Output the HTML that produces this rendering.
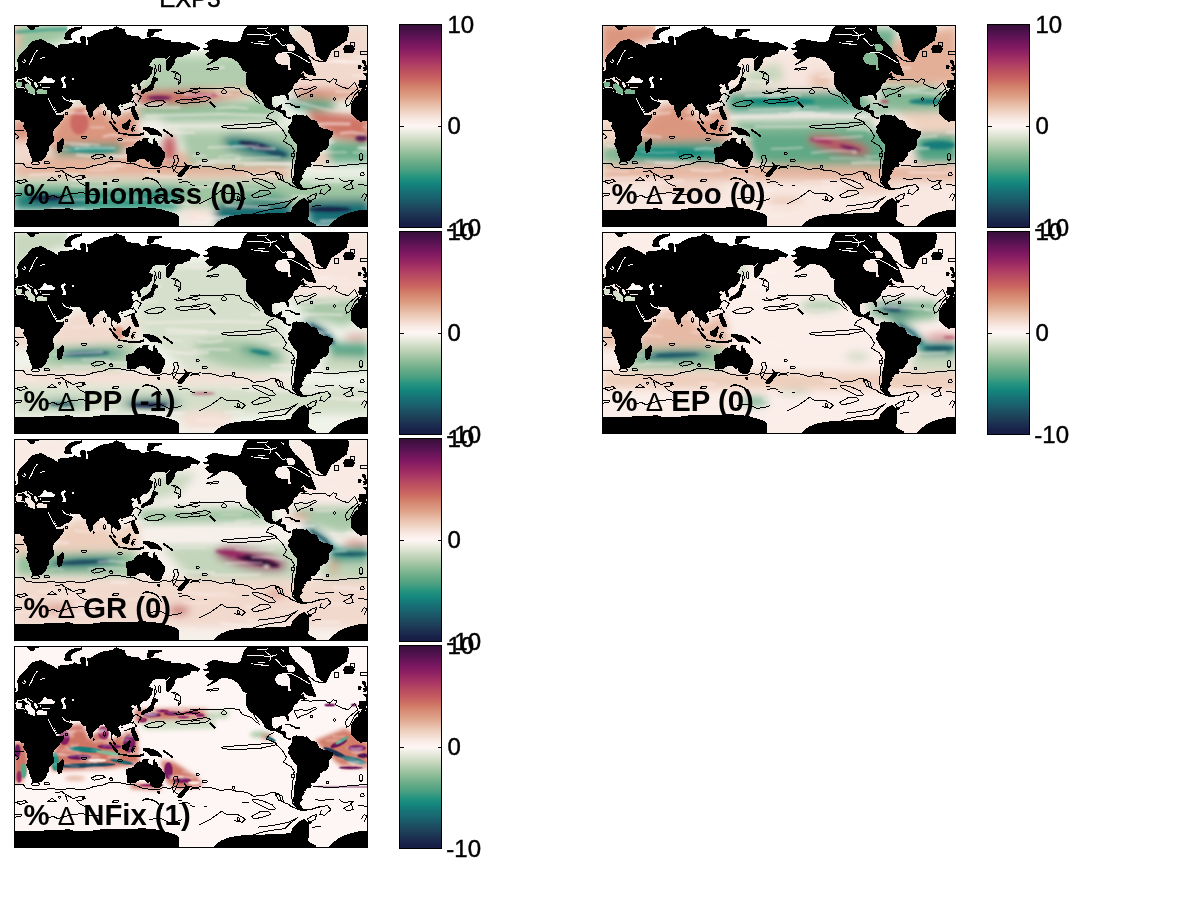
<!DOCTYPE html>
<html lang="en"><head><meta charset="utf-8"><title>EXP3</title>
<style>html,body{margin:0;padding:0;background:#fff}body{width:1200px;height:900px;overflow:hidden;font-family:"Liberation Sans",sans-serif}svg{display:block}text{font-family:"Liberation Sans",sans-serif;fill:#000}</style></head><body>
<svg width="1200" height="900" viewBox="0 0 1200 900">
<defs>
<clipPath id="pc"><rect x="0" y="0" width="353" height="201"/></clipPath>
<linearGradient id="curl" x1="0" y1="1" x2="0" y2="0"><stop offset="0.0" stop-color="#151d44"/><stop offset="0.02" stop-color="#182048"/><stop offset="0.053" stop-color="#1c3050"/><stop offset="0.086" stop-color="#1e415a"/><stop offset="0.119" stop-color="#1c5264"/><stop offset="0.152" stop-color="#19646e"/><stop offset="0.185" stop-color="#167376"/><stop offset="0.218" stop-color="#14877d"/><stop offset="0.25" stop-color="#269480"/><stop offset="0.283" stop-color="#4ba082"/><stop offset="0.315" stop-color="#64aa87"/><stop offset="0.37" stop-color="#96c09b"/><stop offset="0.425" stop-color="#c8d7be"/><stop offset="0.468" stop-color="#e8ebde"/><stop offset="0.5" stop-color="#fef6f4"/><stop offset="0.535" stop-color="#f8e8e1"/><stop offset="0.59" stop-color="#ebc8b4"/><stop offset="0.645" stop-color="#dea087"/><stop offset="0.7" stop-color="#d27d69"/><stop offset="0.727" stop-color="#cb6762"/><stop offset="0.76" stop-color="#c0555f"/><stop offset="0.793" stop-color="#b44462"/><stop offset="0.826" stop-color="#a53264"/><stop offset="0.86" stop-color="#912362"/><stop offset="0.89" stop-color="#801962"/><stop offset="0.924" stop-color="#69145a"/><stop offset="0.957" stop-color="#50124e"/><stop offset="0.99" stop-color="#3c103e"/><stop offset="1.0" stop-color="#350e36"/></linearGradient>
<filter id="b1" x="-20%" y="-20%" width="140%" height="140%"><feGaussianBlur stdDeviation="1"/></filter>
<filter id="b1_5" x="-20%" y="-20%" width="140%" height="140%"><feGaussianBlur stdDeviation="1.5"/></filter>
<filter id="b2" x="-20%" y="-20%" width="140%" height="140%"><feGaussianBlur stdDeviation="2"/></filter>
<filter id="b3" x="-20%" y="-20%" width="140%" height="140%"><feGaussianBlur stdDeviation="3"/></filter>
<filter id="b4" x="-20%" y="-20%" width="140%" height="140%"><feGaussianBlur stdDeviation="4"/></filter>
<filter id="b6" x="-20%" y="-20%" width="140%" height="140%"><feGaussianBlur stdDeviation="6"/></filter>
<filter id="b8" x="-20%" y="-20%" width="140%" height="140%"><feGaussianBlur stdDeviation="8"/></filter>
<path id="land" shape-rendering="crispEdges" d="M-5.9 63.2L-2 64.1L2.9 62L9.8 61.6L10.8 65.8L14.7 67.1L19.6 66.6L19.6 69.1L24.5 67.7L29.4 68.2L31.9 68.6L33.3 71.8L34.8 76.1L36.3 79.3L37.8 82.4L39.2 85.5L42.2 88.1L42.7 89.3L46.1 89.4L50 88.8L49.5 91.6L47.1 95.6L45.1 98.1L41.2 102.2L39.2 104.7L38.2 107.7L39.2 111.2L39.7 115.8L36.3 118.9L34.3 121L34.8 125.2L32.4 127.3L31.9 130.6L29.4 133.3L26.5 135.9L22.6 136.1L19.6 137L17.9 136.1L17.7 133.9L15.7 130L14.2 124.1L11.8 118.9L13.2 112.7L12.3 106.7L8.8 101.7L9.3 97.1L6.9 96.3L4.4 94.3L1 94.6L-2.9 95.6L-7.4 96.2L-10.8 93.6L-13.2 91.1L-16.2 88.1L-17 85.8L-16 81.4L-16.7 79.3L-14.7 75.1L-12.7 72.1L-9.8 70.2L-9.5 67.4L-6.9 65.2ZM347.1 63.2L351 64.1L355.9 62L362.8 61.6L363.8 65.8L367.7 67.1L372.6 66.6L372.6 69.1L377.5 67.7L382.4 68.2L384.9 68.6L386.3 71.8L387.8 76.1L389.3 79.3L390.8 82.4L392.2 85.5L395.2 88.1L395.7 89.3L399.1 89.4L403 88.8L402.5 91.6L400.1 95.6L398.1 98.1L394.2 102.2L392.2 104.7L391.2 107.7L392.2 111.2L392.7 115.8L389.3 118.9L387.3 121L387.8 125.2L385.4 127.3L384.9 130.6L382.4 133.3L379.5 135.9L375.6 136.1L372.6 137L370.9 136.1L370.7 133.9L368.7 130L367.2 124.1L364.8 118.9L366.2 112.7L365.3 106.7L361.8 101.7L362.3 97.1L359.9 96.3L357.4 94.3L354 94.6L350.1 95.6L345.6 96.2L342.2 93.6L339.8 91.1L336.8 88.1L336 85.8L337 81.4L336.3 79.3L338.3 75.1L340.3 72.1L343.2 70.2L343.5 67.4L346.1 65.2ZM48.5 112.5L50 116.3L48.8 119.9L47.1 126.8L43.6 127.3L42.2 123.1L42.5 119.9L42.5 117.1L45.6 115.3ZM-5.4 62.9L-8.8 61.8L-9.1 59.5L-8.6 54.4L-2 54.1L-1.2 51L-4.4 47.9L-1.5 47.6L1.5 45.6L3.9 43.2L6.9 41.1L8.3 40.5L8 36.3L10.3 35.6L9.8 39.1L11.8 40.2L13.7 40.5L18.1 39.5L20.6 38.4L21.1 35.6L23.5 35.1L23 32.9L27.5 32.4L29.4 31.9L25.5 31.5L22.1 31.9L20.9 30.4L21.1 27.3L24.5 24.1L23.5 22.8L21.6 23.3L20.6 25.7L17.2 28.9L16.7 30.8L18.4 32.2L16.2 35.6L15.7 37.4L14 38.4L12.6 38.4L11.3 34.9L10.3 32.9L7.8 34.9L5.4 33.7L4.9 29.6L7.8 26.5L11.8 23.3L14.2 19.1L17.7 16.1L22.6 14.1L27.5 13.8L30.4 15.6L32.4 16.8L39.2 19.9L40.2 21.6L34.3 21.6L32.4 21.3L34.3 25.2L36.8 25.7L39.2 24.1L43.1 22.1L43.1 19.1L45.1 19.1L52 18.2L57.9 17.7L59.8 15.9L63.7 17.3L66.7 18.2L65.7 13.8L66.2 10L69.6 10L71.6 12.8L71.6 18.2L72.6 20.8L73.5 17.3L72.6 11.9L76.5 11.3L79.4 8.9L85.3 6.1L90.2 4.5L97.1 3.7L102 0.5L104.9 2L110.8 4.1L111.3 8.7L116.7 10L124.5 11L127 13.8L131.4 12.8L137.3 11L143.2 11.3L148.1 13.8L155.9 14.7L156.9 16.1L164.7 16.1L167.7 17.3L174.5 16.8L176.5 17.3L181.4 19.9L186.3 22.5L183.4 25.2L176.5 24.1L175.5 28.4L170.6 29.3L166.7 31.9L162.8 31.9L159.8 34.9L158.8 39.1L156.9 41.9L153.8 44.6L152.5 37.7L155.9 33.4L159.8 29.3L156.9 29.6L152 33.1L147.1 32.7L140.2 32.9L137.3 35.6L134.3 40.2L138.3 41.5L137.8 47.2L135.3 51L132.4 54.1L129.4 54.4L127.3 56.1L125 58.9L126.8 61.8L126.5 63.8L124 64.9L123.8 61.8L122.4 60.6L122.6 58.6L119.1 59.5L119.6 57.7L116.7 59.5L115.7 60.6L118.2 61.2L120.1 61.8L118.6 62.9L117 64.1L118.6 67.4L119.6 69.4L118.6 71.8L116.7 75.1L113.7 77.4L110.8 78.2L108.4 79L107.7 80L105.9 78.8L103.9 80.9L104.9 83.4L106.9 87L106.9 89.1L104.4 90.6L102.8 91.9L103 90.3L101 89.3L98.8 87.1L98.1 88.6L97.3 90.6L98.5 93.6L101 96.6L102 99.2L101.5 99.3L99 97.6L98.3 94.6L96.4 92.6L96.6 89.6L95.8 84.5L94.1 84L92.5 84.5L92.5 81.9L90.2 79L88.7 77.7L87.3 78.4L85.3 79.3L84.8 80.3L80.9 84L78.6 85.5L78.4 90.1L76.7 92.3L76 92.5L74.5 90.6L73.3 87.5L71.6 83.4L71.4 79.8L70.6 79.3L69.1 79.5L67.7 77.9L66.2 76.1L65.2 74.7L60.6 74.8L56.4 74.5L55.4 72.9L51.5 72.4L49.2 69.7L47.6 69.7L47.1 70.7L49.2 73.5L50.5 75.1L50.5 76.1L52.9 75.9L55.1 74L55.6 75.8L57.6 76.7L58.6 77.8L56.7 81.4L54.2 83.1L51 84.3L47.6 86.5L44.1 87.7L42.7 87.9L42 85.5L39.7 81.4L38.2 78.8L36.5 75.1L34.3 71.8L33.8 70.2L32.8 71.8L31.9 69.7L31.7 68.3L33.6 68.2L34.3 66.3L35.3 63.5L35.3 62L32.4 62.7L29.9 62.4L27.5 62.1L26 60L25.8 58.3L28.4 57.1L30.9 56.9L34.3 55.9L37.3 57.1L40.7 56.5L40.7 55.3L38.7 53.8L36.8 52.6L37.8 51L36.8 49.7L34.3 51L35.6 51.9L32.8 52.9L32.1 51.4L30.1 50.4L28.9 51.9L27.9 54.1L27.5 55.9L28.2 56.9L25.8 57.3L23.5 57.3L22.4 57.9L23.5 60.4L22.6 62.4L21.1 61.8L19.1 57.9L19.1 55.9L15.7 54.1L13.5 51.5L12.1 52L12.3 53.5L15.5 55.9L18.1 58L16.7 57.7L16.2 58.9L16.7 59.5L15.7 60.6L15.4 58.3L12.3 56.5L10.1 54.7L8.6 53L6.4 54.4L3.1 54.4L3.1 56.1L0.5 57.7L-0.3 59.5L-0.5 60.6L-2 62ZM347.6 62.9L344.2 61.8L343.9 59.5L344.4 54.4L351 54.1L351.8 51L348.6 47.9L351.5 47.6L354.5 45.6L356.9 43.2L359.9 41.1L361.3 40.5L361 36.3L363.3 35.6L362.8 39.1L364.8 40.2L366.7 40.5L371.1 39.5L373.6 38.4L374.1 35.6L376.5 35.1L376 32.9L380.5 32.4L382.4 31.9L378.5 31.5L375.1 31.9L373.9 30.4L374.1 27.3L377.5 24.1L376.5 22.8L374.6 23.3L373.6 25.7L370.2 28.9L369.7 30.8L371.4 32.2L369.2 35.6L368.7 37.4L367 38.4L365.6 38.4L364.3 34.9L363.3 32.9L360.8 34.9L358.4 33.7L357.9 29.6L360.8 26.5L364.8 23.3L367.2 19.1L370.7 16.1L375.6 14.1L380.5 13.8L383.4 15.6L385.4 16.8L392.2 19.9L393.2 21.6L387.3 21.6L385.4 21.3L387.3 25.2L389.8 25.7L392.2 24.1L396.1 22.1L396.1 19.1L398.1 19.1L405 18.2L410.9 17.7L412.8 15.9L416.7 17.3L419.7 18.2L418.7 13.8L419.2 10L422.6 10L424.6 12.8L424.6 18.2L425.6 20.8L426.5 17.3L425.6 11.9L429.5 11.3L432.4 8.9L438.3 6.1L443.2 4.5L450.1 3.7L455 0.5L457.9 2L463.8 4.1L464.3 8.7L469.7 10L477.5 11L480 13.8L484.4 12.8L490.3 11L496.2 11.3L501.1 13.8L508.9 14.7L509.9 16.1L517.7 16.1L520.7 17.3L527.5 16.8L529.5 17.3L534.4 19.9L539.3 22.5L536.4 25.2L529.5 24.1L528.5 28.4L523.6 29.3L519.7 31.9L515.8 31.9L512.8 34.9L511.8 39.1L509.9 41.9L506.8 44.6L505.5 37.7L508.9 33.4L512.8 29.3L509.9 29.6L505 33.1L500.1 32.7L493.2 32.9L490.3 35.6L487.3 40.2L491.3 41.5L490.8 47.2L488.3 51L485.4 54.1L482.4 54.4L480.3 56.1L478 58.9L479.8 61.8L479.5 63.8L477 64.9L476.8 61.8L475.4 60.6L475.6 58.6L472.1 59.5L472.6 57.7L469.7 59.5L468.7 60.6L471.2 61.2L473.1 61.8L471.6 62.9L470 64.1L471.6 67.4L472.6 69.4L471.6 71.8L469.7 75.1L466.7 77.4L463.8 78.2L461.4 79L460.7 80L458.9 78.8L456.9 80.9L457.9 83.4L459.9 87L459.9 89.1L457.4 90.6L455.8 91.9L456 90.3L454 89.3L451.8 87.1L451.1 88.6L450.3 90.6L451.5 93.6L454 96.6L455 99.2L454.5 99.3L452 97.6L451.3 94.6L449.4 92.6L449.6 89.6L448.8 84.5L447.1 84L445.5 84.5L445.5 81.9L443.2 79L441.7 77.7L440.3 78.4L438.3 79.3L437.8 80.3L433.9 84L431.6 85.5L431.4 90.1L429.7 92.3L429 92.5L427.5 90.6L426.3 87.5L424.6 83.4L424.4 79.8L423.6 79.3L422.1 79.5L420.7 77.9L419.2 76.1L418.2 74.7L413.6 74.8L409.4 74.5L408.4 72.9L404.5 72.4L402.2 69.7L400.6 69.7L400.1 70.7L402.2 73.5L403.5 75.1L403.5 76.1L405.9 75.9L408.1 74L408.6 75.8L410.6 76.7L411.6 77.8L409.7 81.4L407.2 83.1L404 84.3L400.6 86.5L397.1 87.7L395.7 87.9L395 85.5L392.7 81.4L391.2 78.8L389.5 75.1L387.3 71.8L386.8 70.2L385.8 71.8L384.9 69.7L384.7 68.3L386.6 68.2L387.3 66.3L388.3 63.5L388.3 62L385.4 62.7L382.9 62.4L380.5 62.1L379 60L378.8 58.3L381.4 57.1L383.9 56.9L387.3 55.9L390.3 57.1L393.7 56.5L393.7 55.3L391.7 53.8L389.8 52.6L390.8 51L389.8 49.7L387.3 51L388.6 51.9L385.8 52.9L385.1 51.4L383.1 50.4L381.9 51.9L380.9 54.1L380.5 55.9L381.2 56.9L378.8 57.3L376.5 57.3L375.4 57.9L376.5 60.4L375.6 62.4L374.1 61.8L372.1 57.9L372.1 55.9L368.7 54.1L366.5 51.5L365.1 52L365.3 53.5L368.5 55.9L371.1 58L369.7 57.7L369.2 58.9L369.7 59.5L368.7 60.6L368.4 58.3L365.3 56.5L363.1 54.7L361.6 53L359.4 54.4L356.1 54.4L356.1 56.1L353.5 57.7L352.7 59.5L352.5 60.6L351 62ZM188.3 23L194.2 21.5L192.2 18.2L189.7 18.2L199.1 13.4L204 14.1L214.7 16.1L220.6 16.8L227.5 15L233.4 15.9L240.2 18.2L247.1 19.1L253 19.1L258.9 18.6L260.8 12.8L263.8 16.5L268.7 19.1L272.6 16.5L273.1 20.8L268.7 22.1L267.2 24.9L262.8 27.3L260.3 31.9L261.8 34.1L264.8 36.3L269.7 38.7L272.3 39.1L272.6 42.1L274.1 44.2L275.5 43.9L275.5 39.8L277.5 37L276.5 33.7L277 31.2L276.5 28.4L280.4 28.4L284.4 30.4L284.9 33.7L288.3 34.1L289.6 31.5L292.2 35.6L294.2 38.4L297.1 40.9L298.4 43.2L295.6 44.2L294.2 45.6L289.3 45.6L287.3 46.8L284.4 49.7L288.3 47.2L289.8 47.4L289.3 49.1L290.2 51L293.2 51.4L291.2 52.6L288.3 54.1L288.3 52.2L287.3 52.2L284.4 53.8L283.7 55.9L284.4 56.5L280.4 57.6L279 60.6L278.5 63.5L276.5 65.2L273.6 68L274.6 72.9L274.3 74.7L273.1 74.5L271.8 71.8L270.6 69.7L268.7 69.3L265.7 69.4L264.8 70.5L261.3 70L257.9 71.8L257.4 75.1L257.1 78.2L258.9 81.4L260.3 82.1L263.3 81.9L264.3 79.3L267.7 78.8L267.2 81.9L266.2 84.5L268.7 84.7L271.1 85.2L271.1 89.6L272.6 91.6L275 91.1L277 92.1L276 93.1L274.6 93.3L273.1 92.8L271.6 92.3L269 90.6L267.2 87.5L263.8 86.5L260.8 84.5L257.9 84.7L253.5 83.1L249.6 80.3L249.6 78.2L247.1 75.1L245.1 72.4L242.7 69.7L240.5 68L240.7 69.7L243.2 73.5L245.1 76.9L243.2 75.1L241.2 72.4L239.7 69.7L238.3 66.9L234.8 64.6L233.4 61.8L231.4 57.9L231.4 54.7L231.4 50.7L230.9 48.1L232.4 47.2L228 44.6L225.5 39.8L222.6 36.3L219.2 34.1L215.7 32.2L211.8 31.9L207.9 31.5L204 33.4L202 35.6L198.1 37L194.2 39.1L191.7 39.8L196.1 36.3L198.6 33.8L194.2 33.4L193.7 31.5L190.7 29.6L191.7 27.3L195.1 26.5L194.6 24.9L190.2 24.9ZM281.9 -2.3L286.3 0.9L296.1 7.7L299.1 17.3L301.8 30.4L307.7 34.6L311.8 35.9L317 25.6L324 20.8L332.2 15L334.6 5.7L333.4 -2.3L333.4 -17L282.4 -17ZM328.5 23.3L330.4 19.4L337.3 19.1L340.7 23.3L338.3 27.3L330 27.3ZM-5.4 45.9L1 44.6L1.7 42.3L0 41.2L-1.5 39.1L-2 35.4L-3.9 34L-5.9 34.9L-5.4 37.7L-3.1 39.1L-2.9 41.5L-4.6 41.9L-4.9 43.6L-2.9 44.2ZM347.6 45.9L354 44.6L354.7 42.3L353 41.2L351.5 39.1L351 35.4L349.1 34L347.1 34.9L347.6 37.7L349.9 39.1L350.1 41.5L348.4 41.9L348.1 43.6L350.1 44.2ZM343.2 43.6L346.8 43L347.1 40.1L345.6 38.7L343.2 40.5ZM277 92.1L279 89.9L282.4 88.6L282.9 89.8L286.3 89.1L290.2 90.1L292.7 89.9L294.2 92.1L297.1 94.6L300.1 94.8L302.5 96.3L304 99.6L304 101.2L305.9 101.7L309.4 103.2L312.8 103.5L316.2 105.3L318.5 106.2L318.9 108.7L316.7 111.7L314.8 113.8L314.8 118.4L313.3 121.5L311.8 124.1L308.9 125L305.4 127.3L305.1 130L302 134.4L300.1 136.7L297.1 136.9L295.8 136.1L297.1 138.9L296.1 141.3L292.2 141.8L291.7 144.2L289.3 144.2L290.2 146.4L288.8 149.1L286.8 150.3L288.3 152.8L285.3 156.1L285.8 158.7L288.8 161.9L285.3 162.6L282.4 160.8L280.4 158.1L278.5 154.1L279 150.3L279.5 145.4L279.5 141.8L279.7 139.5L280.9 135L281.4 130.6L282.1 126.2L282.6 119.9L281.4 117.9L278.5 114.8L277.3 112.7L275.5 109.2L273.3 106.7L273.3 105L274.6 103.7L273.6 101.7L274.6 99.8L275.7 99.1L277.2 96.6L277 93.8ZM111.3 123.1L111.8 127.3L112.8 132.7L112.8 136.4L115.7 137.2L121.1 136.1L123.5 134.2L128.5 133.3L131.4 134.6L133.4 137.2L135 135L135.5 137.8L137.3 140.4L140.7 141.6L143.7 141.8L147.1 139.9L148.1 136.1L150 132.7L150.5 129.5L150 126.2L147.9 124.1L146.1 121.3L143.5 119.9L142.7 115.8L140.7 115.1L139.7 111.5L138.8 113.8L138.3 118.2L136.8 118.4L133.4 116.3L134.1 113L129.9 112.2L127.5 113.8L127 115.8L124.5 114.8L122.6 116.3L119.9 118.2L119.1 120.4L114.7 121.7ZM141.9 144L145.4 144.1L145.1 147L143.2 147.3ZM128.5 101.5L131.4 101.5L132.4 104L135.3 102.4L138.3 103.3L142.2 105L144.6 106.7L144.1 107.7L147.6 111.2L145.1 110.7L143.2 108.7L140.7 109L139.7 109.9L136.3 108.7L135.3 106.7L132.9 105.1L130.4 104.7L129.4 103.5ZM106.9 99.1L108.8 98.9L110.8 97.3L113.3 95.6L114.7 93.6L116.7 95.4L115.5 97.1L115.7 99.6L114.2 102.2L113.7 104.7L111.8 104.2L109.3 103.9L107.9 102.2ZM93.4 95L95.6 95.4L98.5 98.6L101.5 101.7L103.9 103.9L103.7 106.5L102.5 106.5L100 104.7L98.3 102.2L96.6 99.1ZM103.3 107.5L106.4 107.4L108.8 107.4L112.3 108.4L115.7 109L120.6 109L122.6 109.7L121.6 110.9L116.7 110.2L112.3 109.4L107.9 108.9L104.4 108.1ZM117.2 106.2L116.7 103.7L117.7 100.1L120.6 99.6L122.6 99.1L121.6 100.3L118.6 100.3L119.1 101.7L120.9 101.7L119.4 102.7L120.1 105.2L118.2 103.7L118.2 106.2ZM118.2 81.9L119.8 82L119.6 84.5L121.6 87.5L120.1 87L118.4 86L117.7 84.5ZM119.6 93.6L121.6 92.1L123.1 90.9L124 93.1L123.3 94.6L121.6 94.1ZM119.6 88.8L122.6 88.1L122.9 90.3L120.6 91.1ZM139.2 40.1L140.2 43.2L140.7 47.2L139.7 51L139.2 47.2L139 43.2ZM118.6 74.8L119.6 75.1L118.6 78.2L117.9 77.2ZM106.6 81.1L108.4 80.3L108.8 80.9L107.4 82.2ZM78.4 90.8L80.2 93.1L79.4 94.6L78.4 94.6L78.2 92.6ZM49.5 13.8L53.9 15L57.4 14.1L56.4 9.4L59.8 6.1L67.7 3L67.7 0.9L56.9 2.4L51 7.1ZM11.8 -4.6L12.3 1.3L15.7 4.1L19.6 4.5L20.6 2L24.5 1.3L25.5 -4.6ZM269.7 78.2L272.6 77L276.5 77.7L280.2 80.1L277 80.4L276.5 79.3L272.6 78.2ZM279.9 80.5L284.4 80.4L285.9 81.9L283.4 82.7L280.1 82.1ZM294.9 48.8L298.1 43.9L301 47.8L301 50.1L298.1 50ZM225.5 15.6L229.5 4.1L235.3 -1.9L235.3 -17L274.6 -17L274.6 -1.9L275 6.7L280.8 15L287.8 20.8L292.5 29L290.2 34.9L284.4 34.9L276.5 39.1L274.6 44.6L269.7 39.1L259.8 34.9L258.9 19.1ZM31.4 68.2L34.3 71.3L42.7 88L41.2 89.1L32.4 72.9ZM46.6 69.1L49.5 69.3L51.5 72.1L55.4 72.7L55.3 74L52.9 76.3L50.3 76.3L49 73.5L46.9 70.7ZM-5.9 62.7L-5.4 63.7L2.9 62.9L9.8 62.4L10.8 66.3L14.7 67.4L19.6 69.3L24.5 68.2L31.4 68.8L34.3 67.4L35.8 62L29.4 61.8L26.5 61.8L26 58.3L28.4 56.7L27.5 54.7L23.5 56.9L22.1 57.7L19.1 55.7L13.7 51.2L11.8 51.5L8.6 52.7L2.9 54L0 57.9L-2 61.8ZM347.1 62.7L347.6 63.7L355.9 62.9L362.8 62.4L363.8 66.3L367.7 67.4L372.6 69.3L377.5 68.2L384.4 68.8L387.3 67.4L388.8 62L382.4 61.8L379.5 61.8L379 58.3L381.4 56.7L380.5 54.7L376.5 56.9L375.1 57.7L372.1 55.7L366.7 51.2L364.8 51.5L361.6 52.7L355.9 54L353 57.9L351 61.8ZM3.4 44.6L2.9 34.1L4.9 28.9L8.8 33.4L11.8 37.7L9.8 40.5L7.8 41.9ZM9.8 40.5L11.8 37L10.8 33.4L16.7 31.2L17.2 28.1L21.6 22.6L25 23.3L21.1 30.4L22.6 31.9L29.4 31.5L27.5 32.9L23 33.4L24 35.6L21.1 35.9L20.6 39.1L13.7 40.8ZM33.8 50.4L38.2 49.1L38.2 52.2L34.3 52.2ZM31.4 20.8L40.2 20.8L43.1 22.5L37.3 26.5L33.3 25.7ZM132.4 11.9L133.4 3.4L147.1 3.4L148.1 5.5L140.2 6.7L138.3 10.6ZM168.7 135.9L172.6 138.9L175.5 139.9L174.5 143L172.1 145.4L169.1 149.7L165.7 151.9L162.6 150.7L164.7 147.2L167.7 144.2L170.1 141.8L170.1 138.9ZM152 44.6L151.5 35.6L154.9 31.2L159.8 28.1L162.8 30.4L160.8 34.1L159.8 38.4L156.9 42.6L153.9 45.5ZM128 101L132.4 101.2L138.3 102.7L143.2 104.7L145.6 106.7L148.1 110.7L147.6 111.7L143.2 109.7L140.2 110L135.8 109.2L132.4 105.7L128.9 104.2ZM148.6 103L150 103.5L159.3 110.5L157.9 111.7L148.1 104.7ZM103 106.7L112.8 108L124.5 108.2L129.4 106.7L129.4 109.2L123.5 111L112.8 109.9L103.4 108ZM292.5 29L296.6 35.9L298.6 41.9L301 47.8L301 50.1L298.1 50L294.2 49.7L290.2 47.2L288.3 39.1ZM116.2 81.9L120.1 81.7L122.1 87L124.2 91.6L124 94.8L120.6 94.6L118.6 90.6L117 86.5ZM126.5 66L129.4 63.4L133.4 61.6L136.3 58.6L137.3 54.7L138.7 51.2L142.7 52.2L143.7 54.7L140.7 56.7L139.7 60L138.3 64.1L134.3 65.7L130.4 66.9L128.5 68.9L127 68.3ZM0 184.5L9.8 184L19.6 184L29.4 184L39.2 183.6L49 183.1L53.9 182.7L58.8 184L68.6 184.3L73.5 184.8L78.4 184L88.2 182.7L98.1 182.2L107.9 182.2L117.7 182.2L127.5 181.9L137.3 182.2L147.1 184L156.9 186.6L161.8 188.5L164.7 191.3L164.7 232.6L198.1 232.6L199.1 200.4L205.9 194.2L215.7 190.5L227.5 188.8L240.2 188.3L254.9 187.9L269.7 187.2L277.5 186.3L282.4 184.8L284.4 184L287.3 180.5L290.2 177.2L294.2 174.8L297.1 174.3L297.1 176.4L293.2 178.8L291.2 184L292.2 189.4L294.2 195.2L292.2 199.3L304 200.4L313.8 200.4L318.7 196.2L323.6 191.7L333.4 187.5L343.2 185L353 184.5L353 232.6L0 232.6ZM270.5 188.5L276.5 186.6L277.6 182.2L280.8 178.7L284.7 175L289.5 172.3L293.9 175.8L294.9 188.5L293.3 194.8L302.2 199.3L300.6 204.3L270.5 204.3ZM194.2 77.1L196.1 75.8L201.5 80.6L199.9 82.2Z"/>
<path id="sea_inl" shape-rendering="crispEdges" d="M27.5 57L29 53.5L30.7 51.8L33.5 53.5L37.5 54.5L39.7 56.7L37.5 57.7L31.5 57.5ZM46.7 52.5L50 50.5L51.5 52L49.5 54.5L50.3 57.5L51.5 60L51 62.7L48 62L48.3 58.5L47 55.5ZM57.3 52.5L59.5 52.3L59.5 54.5L57.5 54.5Z"/>
<path id="sea_hud" shape-rendering="crispEdges" d="M261 31.3L263.3 28.1L268 26.9L273.3 28.1L275.6 32.5L275.6 37.8L276.2 44.2L273.8 44.2L273.3 39.5L268 39.7L263.3 37.8L260.8 34.6ZM271.5 19.1L278.5 18.3L281.1 22.6L278.5 26.1L273.3 24.9Z"/>
<path id="sea_med" shape-rendering="crispEdges" d="M1 57.5L3 56L7.3 56.5L7.7 59.5L5.5 61.7L1.7 61.5ZM10 59.5L13 57.5L17 60.3L20.5 63.5L20 68.5L15.5 68.7L13 65L10.5 62.5ZM21.7 65.7L24.5 63.5L28.5 64L32.7 64.7L32.7 68.7L22.5 68.7Z"/>
<path id="chan" shape-rendering="crispEdges" fill="none" stroke-width="1" d="M33.7 73L36 77.5L38 81.5L40 84.7L42.5 89M47.5 70.3L50 73.5L52.7 75.3L60.5 76.1M22.7 24.7L20 28.5L18 33L16 37L14 40M25.5 33.2L30 31.8M7.5 36L10.5 37.5M266.8 27.6L276.2 26.7L285.5 31.6L296 37.8M233 9.4L244.7 8.6L254.6 10.6L262.2 8.2M250.5 4.7L256.3 9.4L255.2 15M261.2 12.7L268 19.9L271.5 19.4M242.3 3.3L254 2.4M243.5 15.6L250.5 16.2M266.8 2.8L269.8 5.1"/>
<path id="ct" d="M160.2 66.6L163.3 68.2L169.7 67.1L177.6 64.7L185.5 63.2M175.5 63.2L185.0 62.5L196.1 63.2L207.2 63.2L212.2 61.9L215.1 61.6L224.6 63.2L227.7 67.9L237.2 71.1L242.0 75.8L245.2 77.7M207.3 66.3a2.2 2.2 0 1 0 4.4 0a2.2 2.2 0 1 0 -4.4 0ZM130.1 79.0L138.0 75.8L147.5 74.6L151.0 76.6L145.9 80.3L134.8 81.5ZM160.2 75.8L168.1 73.9L177.6 74.6L185.5 73.9M160.2 75.8L166.5 77.7L177.6 77.4L185.5 77.4M175.5 73.9L185.0 72.0L191.3 71.1L196.1 72.7L191.3 75.8L181.8 76.8L175.5 77.4M163.3 65.1L168.1 67.9L174.4 65.5L180.7 67.6L185.5 65.5M143.79999999999998 42.6a1.3 3.5 0 1 0 2.6 0a1.3 3.5 0 1 0 -2.6 0ZM157.0 45.7L161.7 48.1L160.2 52.9L164.9 54.5L163.3 60.0L165.7 56.8L166.5 50.5L161.7 46.5ZM140.4 38.6L142.0 45.7L138.8 52.1M106.3 79.8L112.7 76.6L119.0 75.8L122.2 79.8L115.8 82.2L109.5 84.5M117.4 69.5L122.2 67.9L126.9 71.1L123.7 75.8M89.10000000000001 87.2a1.1 1.9 0 1 0 2.2 0a1.1 1.9 0 1 0 -2.2 0ZM191.3 43.8L196.1 42.6L204.0 42.3L203.2 43.8L196.1 44.6ZM207.2 100.6L223.0 99.2L242.0 97.9L261.0 96.3L262.3 98.2L251.5 100.6L243.6 102.2L215.1 103.0L207.2 101.4ZM259.4 86.1L254.7 88.5L251.5 92.5L257.8 94.8L261.8 97.2M261.8 98.2L267.3 103.0L272.1 110.9L268.9 115.7L276.8 120.4L280.0 125.2L278.7 127.5M276.79999999999995 129.6a1.6 1.9 0 1 0 3.2 0a1.6 1.9 0 1 0 -3.2 0ZM278.7 131.5L278.1 139.4L276.8 148.9L278.4 156.8L284.7 163.2L295.8 163.2L305.3 160.0M286.3 53.7L295.8 54.6L310.1 53.7L314.8 56.8L318.8 53.3L322.0 54.5L321.2 58.4L327.5 61.6L333.8 63.2L340.2 56.8L343.3 63.2L333.8 71.1L330.7 75.8L332.2 80.6L335.4 79.0L340.2 69.5L344.9 64.7M279.2 63.2L281.3 67.9L283.2 71.9L286.3 69.5L291.9 67.9L297.4 64.7L302.2 61.9L300.6 60.8L292.7 64.0L286.3 63.2L280.8 64.0M296.0 69.8a1.1 1.1 0 1 0 2.2 0a1.1 1.1 0 1 0 -2.2 0ZM318.79999999999995 73.5a1.1 1.1 0 1 0 2.2 0a1.1 1.1 0 1 0 -2.2 0ZM320.4 26.0L323.5 26.0L323.5 30.7L320.4 30.7ZM345.7 26.0L352.8 26.0L352.8 29.1L345.7 29.1ZM336.2 17.2L339.4 16.5L340.2 20.4L337.0 22.8ZM291.1 27.5L295.8 30.7L300.6 34.7L306.9 36.2L311.7 35.9M299.0 139.7L318.0 141.3L333.8 139.4L352.8 137.8M344.9 131.2a1.6 3.5 0 1 0 3.2 0a1.6 3.5 0 1 0 -3.2 0ZM311.59999999999997 135.9a1.3 1.3 0 1 0 2.6 0a1.3 1.3 0 1 0 -2.6 0ZM345.90000000000003 148.6a1.9 1.6 0 1 0 3.8 0a1.9 1.6 0 1 0 -3.8 0ZM175.5 142.9L185.0 140.4L196.1 141.0L207.2 144.2L213.5 142.6L223.0 145.0L232.5 145.7L238.8 149.7L249.9 148.9L257.8 145.7L264.2 147.3L267.3 155.2L273.7 157.6L276.8 160.0M185.0 178.2L196.1 172.7L207.2 164.7L211.9 167.9L223.0 167.9L230.9 172.7L227.7 175.8L219.8 174.2M238.0 152.9L246.7 153.7L257.8 158.4L261.0 162.4L254.7 163.2L245.2 158.4L238.8 155.2ZM237.2 169.5L246.7 164.7L254.7 165.5L256.2 167.9L246.7 171.1L238.8 172.3ZM243.6 180.6L257.8 179.0L273.7 175.8L283.2 171.1L276.8 175.8L270.5 182.2L257.8 183.7L245.2 186.1L238.8 188.5M261.0 148.1L264.2 153.7L268.9 155.2L267.3 148.9ZM217.9 141.3a1.1 1.4 0 1 0 2.2 0a1.1 1.4 0 1 0 -2.2 0ZM188.0 135.0a2.5 1.3 0 1 0 5.0 0a2.5 1.3 0 1 0 -5.0 0ZM182.0 128.0a1.4 1.1 0 1 0 2.8 0a1.4 1.1 0 1 0 -2.8 0ZM222.70000000000002 172.7a1.1 1.6 0 1 0 2.2 0a1.1 1.6 0 1 0 -2.2 0ZM276.8 160.0L286.3 164.0L295.8 163.2L306.9 160.0L313.2 159.2L316.4 163.2L310.1 168.7L305.3 167.9L306.9 163.2M300.6 152.4L306.9 154.5L313.2 152.9L319.6 153.3M324.3 152.9L329.1 156.0L338.6 154.9L335.4 158.4L329.1 161.6L332.2 164.0L338.6 163.2L337.0 157.6M292.7 172.7L297.4 169.5L302.2 167.9L300.6 172.7L295.8 175.8ZM297.4 180.6L306.9 180.3M343.3 158.4L352.8 160.0M346.5 172.7L349.7 167.9L352.8 169.5L349.7 175.0M227.7 155.6L234.1 155.6M189.7 160.0L192.9 160.0M175.5 159.2L180.2 160.0M-0.0 137.7L9.0 138.5L12.0 142.2L25.5 143.0L37.5 142.2L45.0 143.0L55.5 142.2L67.5 143.0L73.5 142.2L79.5 140.0L88.5 138.5L94.5 136.2L100.5 135.5L105.0 136.2L112.5 137.7L120.0 138.5L127.5 141.5L136.5 143.0L144.0 143.0L150.0 140.7L154.5 142.2L160.5 140.0L166.5 141.5L175.5 140.0M174.4 139.4L179.2 141.0L185.5 142.9M16.5 137.7a4.5 1.5 0 1 0 9.0 0a4.5 1.5 0 1 0 -9.0 0ZM29.500000000000004 137.3a2.7 1.2 0 1 0 5.4 0a2.7 1.2 0 1 0 -5.4 0ZM76.5 131.7L81.0 129.5L88.5 129.2L90.7 130.7L85.5 132.5L79.5 133.7ZM95.4 132.8a1.3 1.3 0 1 0 2.6 0a1.3 1.3 0 1 0 -2.6 0ZM40.5 146.0L48.0 145.2L51.0 148.2L53.2 155.7M48.0 146.0L58.5 152.0L66.0 149.7L70.5 152.0L67.5 153.5L61.5 153.5L66.0 158.0L73.5 161.0M43.8 150.8a1.2 1.0 0 1 0 2.4 0a1.2 1.0 0 1 0 -2.4 0ZM67.8 151.2a1.2 1.0 0 1 0 2.4 0a1.2 1.0 0 1 0 -2.4 0ZM33.0 155.3L37.5 152.0L42.0 155.3ZM1.5 155.7L10.5 154.2L12.7 155.7L6.0 158.0ZM-0.0 168.5L7.5 167.7L6.0 170.0L-0.0 170.7M31.5 171.5L39.0 170.0L43.5 172.2L55.5 168.5L67.5 167.0L73.5 168.5L85.5 169.2M97.5 155.7L100.5 153.5L104.2 153.5L103.5 155.7L99.0 156.5ZM127.5 154.2L130.5 152.7L138.0 153.5L142.5 155.7L145.5 159.5L147.0 162.8M135.0 173.0L145.5 171.5L154.5 176.0L163.5 174.5L168.0 173.0M160.5 146.0L165.0 148.2L169.5 146.0M165.0 157.2L171.0 155.7L175.5 157.2M158.6 130.7L162.5 129.9L164.1 134.7L161.7 141.0L159.4 145.7L157.8 141.0L160.2 135.5ZM130.1 152.1L138.0 152.9L136.4 154.5M163.3 154.5L167.3 153.7M66.7 111.7a2.8 1.0 0 1 0 5.6 0a2.8 1.0 0 1 0 -5.6 0ZM103.0 114.0a2.5 1.0 0 1 0 5.0 0a2.5 1.0 0 1 0 -5.0 0ZM95.1 132.5a1.4 1.6 0 1 0 2.8 0a1.4 1.6 0 1 0 -2.8 0ZM88.8 87.5a1.2 2.2 0 1 0 2.4 0a1.2 2.2 0 1 0 -2.4 0ZM51.0 88.0a1.0 1.0 0 1 0 2.0 0a1.0 1.0 0 1 0 -2.0 0ZM0.5 105.0L5.5 105.5L9.5 105.3M0.5 108.0L4.5 111.5L1.5 113.5" fill="none" stroke="#000" stroke-width="1" shape-rendering="crispEdges"/>
</defs>
<text x="190" y="6.8" font-size="24" text-anchor="middle" stroke="#000" stroke-width="0.5">EXP3</text>
<g transform="translate(14.5 25.5)">
<g clip-path="url(#pc)">
<rect x="0" y="0" width="353" height="201" fill="#e9efe3"/>
<g filter="url(#b4)"><path d="M31.7 115.2L43.8 94L58.9 80.5L86 77.5L95 94L122.2 82L128.2 121.2L86 128.7L40.8 128.7Z" fill="#db967f"/><path d="M46.8 119.1L107.1 118.2L107.7 129.6L40.8 130.2Z" fill="#319881"/><path d="M25.7 130.2L122.2 129L176.5 127.2L206.7 128.7L267 136.3L276.1 145.3L276.1 152L0 151.4L0 139.3Z" fill="#e4b29b"/><ellipse cx="182.5" cy="131.8" rx="9.1" ry="4.5" fill="#d27d69"/><path d="M0 155.9L354.5 155.9L354.5 181.5L0 181.5Z" fill="#9fc4a1"/><path d="M0 164L164.4 164L164.4 184.6L0 184.6Z" fill="#319881"/><ellipse cx="37.7" cy="177.0" rx="39.2" ry="4.8" fill="#19636d"/><ellipse cx="140.3" cy="168.0" rx="33.2" ry="4.8" fill="#188a7e"/><ellipse cx="321.3" cy="182.1" rx="36.2" ry="5.4" fill="#1b5566"/><ellipse cx="245.9" cy="171.0" rx="24.1" ry="3.6" fill="#429d82"/><ellipse cx="182.5" cy="190.6" rx="16.6" ry="9.1" fill="#f7e5dd"/><path d="M200.6 178.5L277.6 175.5L277.6 199.6L200.6 199.6Z" fill="#176e74"/><path d="M294.1 174.3L354.5 174.3L354.5 199.6L294.1 199.6Z" fill="#176e74"/><path d="M137.3 30.7L236.8 30.7L248.9 65.4L125.2 66.3Z" fill="#b1cdae"/><path d="M119.2 65.7L164.4 64.5L227.8 63.3L230.2 71.1L176.5 77.8L125.2 80.2Z" fill="#cc6963"/><path d="M125.2 79.6L251.9 75.3L268.5 94.7L125.2 96.5Z" fill="#96c09b"/><path d="M140.3 96.5L268.5 95.3L268.5 104.9L140.3 105.5Z" fill="#e2e7d8"/><path d="M164.4 105.5L285.1 105.5L286.6 139.9L176.5 139.9Z" fill="#a8c8a8"/><ellipse cx="244.4" cy="122.7" rx="37.7" ry="9.1" fill="#157c79" transform="rotate(12 244.4 122.7)"/><ellipse cx="137.3" cy="100.7" rx="15.1" ry="8.4" fill="#f4f1ea"/><ellipse cx="154.8" cy="122.7" rx="6.6" ry="14.5" fill="#c35a60"/><path d="M261 24.7L285.1 0.5L354.5 0.5L354.5 64.5L276.1 64.5Z" fill="#f2d9cd"/><path d="M279.1 65.1L342.4 61.5L354.5 69.3L327.3 74.1L282.1 72.3Z" fill="#dd9d84"/><ellipse cx="300.2" cy="79.0" rx="21.7" ry="6.0" fill="#50a283"/><ellipse cx="280.6" cy="75.3" rx="5.4" ry="3.0" fill="#157c79"/><ellipse cx="215.7" cy="66.9" rx="28.7" ry="3.9" fill="#e3af97"/><ellipse cx="297.2" cy="66.3" rx="18.1" ry="3.0" fill="#d27d69"/><path d="M292.6 85L354.5 90.4L354.5 115.8L321.3 112.8L297.2 97.7Z" fill="#cf7566"/><path d="M315.3 115.8L354.5 115.8L354.5 136.9L309.2 136.9Z" fill="#69ac89"/><ellipse cx="306.2" cy="133.9" rx="9.1" ry="7.2" fill="#edcebc"/><path d="M-1.5 94L14.2 94L17.2 115.2L-1.5 115.2Z" fill="#d99079"/><path d="M-1.5 115.2L25.7 115.2L25.7 139.3L-1.5 139.3Z" fill="#f2d9cd"/><path d="M-1.5 -1L54.3 -1L54.3 12.6L13.6 24.7L-1.5 42.8Z" fill="#9fc4a1"/><ellipse cx="2.1" cy="12.6" rx="4.2" ry="13.6" fill="#e6b9a4"/></g>
<g filter="url(#b1_5)"><ellipse cx="144.8" cy="72.3" rx="12.1" ry="2.1" fill="#68145a"/><ellipse cx="188.6" cy="69.9" rx="15.1" ry="1.5" fill="#b14062"/><ellipse cx="77.0" cy="124.2" rx="24.1" ry="2.7" fill="#188a7e"/><path d="M215.7 118.2L242.9 121.8L267 129" fill="none" stroke="#157c79" stroke-width="2.4" stroke-linecap="round" stroke-linejoin="round"/><ellipse cx="241.4" cy="120.6" rx="18.1" ry="3.3" fill="#151d44" transform="rotate(12 241.4 120.6)"/><ellipse cx="261.0" cy="127.2" rx="12.1" ry="2.7" fill="#1d485e" transform="rotate(12 261.0 127.2)"/><path d="M131.2 90.4L206.7 88.6L261 90.4" fill="none" stroke="#fcf2ef" stroke-width="1.5" stroke-linecap="round" stroke-linejoin="round"/><path d="M152.4 100.7L267 100.1" fill="none" stroke="#fcf2ef" stroke-width="1.2" stroke-linecap="round" stroke-linejoin="round"/><path d="M182.5 136.3L279.1 138.7" fill="none" stroke="#fcf2ef" stroke-width="1.5" stroke-linecap="round" stroke-linejoin="round"/><ellipse cx="346.9" cy="112.8" rx="6.0" ry="3.0" fill="#551251"/><ellipse cx="64.9" cy="97.1" rx="9.1" ry="12.1" fill="#cc6963"/><path d="M1.5 6.6L31.7 4.2L52.8 3.6" fill="none" stroke="#269480" stroke-width="2.1" stroke-linecap="round" stroke-linejoin="round"/><path d="M279.1 75.3L315.3 85L351.5 86.8" fill="none" stroke="#fbf0ec" stroke-width="1.2" stroke-linecap="round" stroke-linejoin="round"/><ellipse cx="31.7" cy="172.5" rx="18.1" ry="2.4" fill="#151d44"/><ellipse cx="315.3" cy="183.9" rx="21.1" ry="2.4" fill="#151d44"/></g>
<g filter="url(#b1)"><path d="M47.4 174.1L67.9 173.9L88.5 174" fill="none" stroke="#fcf2ef" stroke-width="1.7" stroke-linecap="round" stroke-linejoin="round" opacity="0.55"/><path d="M230 164.1L237.8 164.2L245.6 164.7" fill="none" stroke="#fcf2ef" stroke-width="1.3" stroke-linecap="round" stroke-linejoin="round" opacity="0.55"/><path d="M269.1 30.4L283.5 31.2L298 29.4" fill="none" stroke="#fcf2ef" stroke-width="2.5" stroke-linecap="round" stroke-linejoin="round" opacity="0.55"/><path d="M318.2 35.2L324.7 35.2L331.2 35.9" fill="none" stroke="#fcf2ef" stroke-width="2.2" stroke-linecap="round" stroke-linejoin="round" opacity="0.55"/><path d="M76.5 101.8L83 101.7L89.6 101.7" fill="none" stroke="#fcf2ef" stroke-width="1.6" stroke-linecap="round" stroke-linejoin="round" opacity="0.55"/><path d="M82.3 69.2L92.4 67.6L102.6 68.7" fill="none" stroke="#fcf2ef" stroke-width="2.0" stroke-linecap="round" stroke-linejoin="round" opacity="0.55"/><path d="M295.7 124.6L313.9 126.8L332.1 126.7" fill="none" stroke="#fcf2ef" stroke-width="1.5" stroke-linecap="round" stroke-linejoin="round" opacity="0.55"/><path d="M42.7 86.6L62.4 87.4L82.1 88.6" fill="none" stroke="#fcf2ef" stroke-width="2.5" stroke-linecap="round" stroke-linejoin="round" opacity="0.55"/><path d="M293 144L304.8 145.5L316.5 145" fill="none" stroke="#fcf2ef" stroke-width="2.3" stroke-linecap="round" stroke-linejoin="round" opacity="0.55"/><path d="M178.4 130.1L185 130.1L191.7 130.6" fill="none" stroke="#fcf2ef" stroke-width="1.6" stroke-linecap="round" stroke-linejoin="round" opacity="0.55"/><path d="M61.1 123.3L80.4 122.8L99.8 122.7" fill="none" stroke="#fcf2ef" stroke-width="2.4" stroke-linecap="round" stroke-linejoin="round" opacity="0.55"/><path d="M179.5 162.3L195.4 160.9L211.3 162.3" fill="none" stroke="#fcf2ef" stroke-width="1.9" stroke-linecap="round" stroke-linejoin="round" opacity="0.55"/><path d="M15.4 149.6L40 148.3L64.7 148.9" fill="none" stroke="#fcf2ef" stroke-width="2.3" stroke-linecap="round" stroke-linejoin="round" opacity="0.55"/><path d="M177.3 197L197.9 197L218.6 198.7" fill="none" stroke="#fcf2ef" stroke-width="2.2" stroke-linecap="round" stroke-linejoin="round" opacity="0.55"/><path d="M181.4 191.9L198.3 191.6L215.3 191" fill="none" stroke="#fcf2ef" stroke-width="2.0" stroke-linecap="round" stroke-linejoin="round" opacity="0.55"/><path d="M337.9 31L358.8 32.7L379.6 32.9" fill="none" stroke="#fcf2ef" stroke-width="2.7" stroke-linecap="round" stroke-linejoin="round" opacity="0.55"/><path d="M285.6 118.2L302.3 118.4L319 116.4" fill="none" stroke="#fcf2ef" stroke-width="2.0" stroke-linecap="round" stroke-linejoin="round" opacity="0.55"/><path d="M201.2 64L216.8 63.2L232.4 63.4" fill="none" stroke="#fcf2ef" stroke-width="2.1" stroke-linecap="round" stroke-linejoin="round" opacity="0.55"/><path d="M190.1 136L207.7 134.2L225.4 134" fill="none" stroke="#fcf2ef" stroke-width="2.0" stroke-linecap="round" stroke-linejoin="round" opacity="0.55"/><path d="M62.6 129.4L84.9 131.1L107.3 131" fill="none" stroke="#fcf2ef" stroke-width="2.6" stroke-linecap="round" stroke-linejoin="round" opacity="0.55"/><path d="M90.1 173.1L108.9 170.6L127.7 170.9" fill="none" stroke="#fcf2ef" stroke-width="1.3" stroke-linecap="round" stroke-linejoin="round" opacity="0.55"/><path d="M266.7 72.4L274.8 71L282.9 72.1" fill="none" stroke="#fcf2ef" stroke-width="2.3" stroke-linecap="round" stroke-linejoin="round" opacity="0.55"/><path d="M56.3 119.7L65.5 119.8L74.7 120.1" fill="none" stroke="#fcf2ef" stroke-width="1.7" stroke-linecap="round" stroke-linejoin="round" opacity="0.55"/><path d="M113.7 110.5L120.1 109.5L126.6 110.4" fill="none" stroke="#fcf2ef" stroke-width="1.9" stroke-linecap="round" stroke-linejoin="round" opacity="0.55"/><path d="M38.4 183L54.1 184.1L69.8 183.4" fill="none" stroke="#fcf2ef" stroke-width="1.6" stroke-linecap="round" stroke-linejoin="round" opacity="0.55"/><path d="M7.3 33L16.1 33.3L24.9 32.3" fill="none" stroke="#fcf2ef" stroke-width="2.5" stroke-linecap="round" stroke-linejoin="round" opacity="0.55"/><path d="M239.4 122.6L249.6 123L259.8 123.3" fill="none" stroke="#fcf2ef" stroke-width="3.0" stroke-linecap="round" stroke-linejoin="round" opacity="0.55"/><path d="M78.8 140.2L92.3 140.3L105.8 139.7" fill="none" stroke="#fcf2ef" stroke-width="2.2" stroke-linecap="round" stroke-linejoin="round" opacity="0.55"/><path d="M20.8 80.8L45.1 81.3L69.5 79.6" fill="none" stroke="#fcf2ef" stroke-width="2.8" stroke-linecap="round" stroke-linejoin="round" opacity="0.55"/><path d="M109.6 189.7L129.7 187.6L149.8 188.5" fill="none" stroke="#fcf2ef" stroke-width="1.9" stroke-linecap="round" stroke-linejoin="round" opacity="0.55"/><path d="M310.2 36.4L331.8 35.6L353.3 36.8" fill="none" stroke="#fcf2ef" stroke-width="2.9" stroke-linecap="round" stroke-linejoin="round" opacity="0.55"/><path d="M306.3 195.5L325.7 194.8L345.1 195" fill="none" stroke="#fcf2ef" stroke-width="2.1" stroke-linecap="round" stroke-linejoin="round" opacity="0.55"/><path d="M72.6 144.6L86.9 144.4L101.1 143.3" fill="none" stroke="#fcf2ef" stroke-width="1.5" stroke-linecap="round" stroke-linejoin="round" opacity="0.55"/><path d="M104.5 115L116.7 114.1L128.9 116.1" fill="none" stroke="#fcf2ef" stroke-width="2.8" stroke-linecap="round" stroke-linejoin="round" opacity="0.55"/><path d="M70.9 85.7L95.7 84.4L120.4 84.8" fill="none" stroke="#fcf2ef" stroke-width="2.6" stroke-linecap="round" stroke-linejoin="round" opacity="0.55"/><path d="M238.1 172.4L261.8 174.1L285.5 174.6" fill="none" stroke="#fcf2ef" stroke-width="1.8" stroke-linecap="round" stroke-linejoin="round" opacity="0.55"/><path d="M171 197.5L181.5 196L191.9 196.5" fill="none" stroke="#fcf2ef" stroke-width="2.5" stroke-linecap="round" stroke-linejoin="round" opacity="0.55"/><path d="M321.6 66.2L342 66.6L362.4 67.9" fill="none" stroke="#fcf2ef" stroke-width="2.3" stroke-linecap="round" stroke-linejoin="round" opacity="0.55"/><path d="M120.1 79.5L142.6 81.9L165.1 82" fill="none" stroke="#fcf2ef" stroke-width="2.3" stroke-linecap="round" stroke-linejoin="round" opacity="0.55"/><path d="M47.8 123.7L55.8 124.4L63.7 122.9" fill="none" stroke="#fcf2ef" stroke-width="1.3" stroke-linecap="round" stroke-linejoin="round" opacity="0.55"/><path d="M278.2 170.8L290.7 170.9L303.2 171.7" fill="none" stroke="#fcf2ef" stroke-width="2.3" stroke-linecap="round" stroke-linejoin="round" opacity="0.55"/><path d="M201.5 68L209 68.6L216.6 68.7" fill="none" stroke="#fcf2ef" stroke-width="1.7" stroke-linecap="round" stroke-linejoin="round" opacity="0.55"/><path d="M326.5 107.8L337.8 106.8L349.1 108.7" fill="none" stroke="#fcf2ef" stroke-width="2.6" stroke-linecap="round" stroke-linejoin="round" opacity="0.55"/><path d="M236.7 45.6L244.8 44.4L253 44.7" fill="none" stroke="#fcf2ef" stroke-width="2.8" stroke-linecap="round" stroke-linejoin="round" opacity="0.55"/><path d="M348.8 101.6L357 102.1L365.2 101.1" fill="none" stroke="#fcf2ef" stroke-width="1.5" stroke-linecap="round" stroke-linejoin="round" opacity="0.55"/><path d="M36.3 184.8L49.5 184.9L62.7 186.1" fill="none" stroke="#fcf2ef" stroke-width="2.9" stroke-linecap="round" stroke-linejoin="round" opacity="0.55"/><path d="M89.5 111.1L97.4 109.2L105.3 110.2" fill="none" stroke="#fcf2ef" stroke-width="2.4" stroke-linecap="round" stroke-linejoin="round" opacity="0.55"/><path d="M346.9 80.2L364.2 78.5L381.5 79.5" fill="none" stroke="#fcf2ef" stroke-width="2.0" stroke-linecap="round" stroke-linejoin="round" opacity="0.55"/><path d="M322.4 194.9L346.9 194.4L371.3 193.2" fill="none" stroke="#fcf2ef" stroke-width="1.4" stroke-linecap="round" stroke-linejoin="round" opacity="0.55"/><path d="M345.9 122.3L365 121.9L384.1 121.2" fill="none" stroke="#fcf2ef" stroke-width="2.4" stroke-linecap="round" stroke-linejoin="round" opacity="0.55"/><path d="M108.5 71.9L116 72.2L123.6 72.8" fill="none" stroke="#fcf2ef" stroke-width="1.7" stroke-linecap="round" stroke-linejoin="round" opacity="0.55"/><path d="M230.2 139.4L254 138.3L277.9 138.3" fill="none" stroke="#fcf2ef" stroke-width="1.9" stroke-linecap="round" stroke-linejoin="round" opacity="0.55"/><path d="M111.8 174L134.8 173.7L157.8 173.1" fill="none" stroke="#fcf2ef" stroke-width="1.7" stroke-linecap="round" stroke-linejoin="round" opacity="0.55"/><path d="M204.4 131.3L215 129.7L225.7 130.7" fill="none" stroke="#fcf2ef" stroke-width="1.2" stroke-linecap="round" stroke-linejoin="round" opacity="0.55"/><path d="M194.6 42.1L202 42.7L209.4 41.7" fill="none" stroke="#fcf2ef" stroke-width="2.3" stroke-linecap="round" stroke-linejoin="round" opacity="0.55"/><path d="M174.1 176.7L183.1 175.7L192 177.3" fill="none" stroke="#fcf2ef" stroke-width="2.1" stroke-linecap="round" stroke-linejoin="round" opacity="0.55"/><path d="M335.1 59.5L355.8 59.7L376.6 61.1" fill="none" stroke="#fcf2ef" stroke-width="3.0" stroke-linecap="round" stroke-linejoin="round" opacity="0.55"/><path d="M37.7 117.4L61.2 117.5L84.7 119.7" fill="none" stroke="#fcf2ef" stroke-width="1.7" stroke-linecap="round" stroke-linejoin="round" opacity="0.55"/><path d="M321.4 35.4L333.4 37.1L345.4 36.3" fill="none" stroke="#fcf2ef" stroke-width="2.8" stroke-linecap="round" stroke-linejoin="round" opacity="0.55"/><path d="M296.8 156.9L315.9 155.7L335 156.5" fill="none" stroke="#fcf2ef" stroke-width="1.5" stroke-linecap="round" stroke-linejoin="round" opacity="0.55"/><path d="M252.3 143.5L263.1 145L273.9 144.7" fill="none" stroke="#fcf2ef" stroke-width="1.3" stroke-linecap="round" stroke-linejoin="round" opacity="0.55"/><path d="M193.9 122L216.1 121.3L238.2 121.5" fill="none" stroke="#fcf2ef" stroke-width="2.0" stroke-linecap="round" stroke-linejoin="round" opacity="0.55"/><path d="M91.1 34.1L109.3 33L127.6 34.5" fill="none" stroke="#fcf2ef" stroke-width="2.0" stroke-linecap="round" stroke-linejoin="round" opacity="0.55"/><path d="M125.3 53.5L133.7 53.5L142 54.2" fill="none" stroke="#fcf2ef" stroke-width="1.7" stroke-linecap="round" stroke-linejoin="round" opacity="0.55"/><path d="M141.6 134.1L152 134.2L162.5 134.2" fill="none" stroke="#fcf2ef" stroke-width="1.2" stroke-linecap="round" stroke-linejoin="round" opacity="0.55"/><path d="M229 104.5L248.1 103.9L267.1 103.3" fill="none" stroke="#fcf2ef" stroke-width="2.5" stroke-linecap="round" stroke-linejoin="round" opacity="0.55"/><path d="M169 68.3L182.9 70.2L196.7 69.6" fill="none" stroke="#fcf2ef" stroke-width="2.2" stroke-linecap="round" stroke-linejoin="round" opacity="0.55"/><path d="M97.2 139.9L104.1 141L111 139.9" fill="none" stroke="#fcf2ef" stroke-width="1.3" stroke-linecap="round" stroke-linejoin="round" opacity="0.55"/><path d="M56.3 160.2L79.1 161.8L101.8 161.3" fill="none" stroke="#fcf2ef" stroke-width="1.8" stroke-linecap="round" stroke-linejoin="round" opacity="0.55"/><path d="M131.2 149.2L151.2 151.3L171.2 150.9" fill="none" stroke="#fcf2ef" stroke-width="2.3" stroke-linecap="round" stroke-linejoin="round" opacity="0.55"/><path d="M338.9 127.1L348.3 127L357.6 126.5" fill="none" stroke="#fcf2ef" stroke-width="1.7" stroke-linecap="round" stroke-linejoin="round" opacity="0.55"/><path d="M267.5 38.9L286.4 38.6L305.4 38.2" fill="none" stroke="#fcf2ef" stroke-width="2.5" stroke-linecap="round" stroke-linejoin="round" opacity="0.55"/><path d="M58.2 154.1L64.9 154.7L71.7 154.6" fill="none" stroke="#fcf2ef" stroke-width="3.0" stroke-linecap="round" stroke-linejoin="round" opacity="0.55"/><path d="M94.4 185.2L118.7 187L142.9 186.8" fill="none" stroke="#fcf2ef" stroke-width="1.5" stroke-linecap="round" stroke-linejoin="round" opacity="0.55"/><path d="M232.9 149.1L247.3 149.5L261.8 150.7" fill="none" stroke="#fcf2ef" stroke-width="2.9" stroke-linecap="round" stroke-linejoin="round" opacity="0.55"/><path d="M283.4 103.6L292.5 104.4L301.6 102.8" fill="none" stroke="#fcf2ef" stroke-width="1.8" stroke-linecap="round" stroke-linejoin="round" opacity="0.55"/><path d="M338.7 50.3L356.1 48.9L373.5 48.7" fill="none" stroke="#fcf2ef" stroke-width="1.9" stroke-linecap="round" stroke-linejoin="round" opacity="0.55"/><path d="M87.6 157.4L93.7 155.9L99.8 157.3" fill="none" stroke="#fcf2ef" stroke-width="1.5" stroke-linecap="round" stroke-linejoin="round" opacity="0.55"/><path d="M221.5 133L243.4 132.5L265.3 131.8" fill="none" stroke="#fcf2ef" stroke-width="1.6" stroke-linecap="round" stroke-linejoin="round" opacity="0.55"/><path d="M96.4 129.6L107.2 130.9L118 130.3" fill="none" stroke="#fcf2ef" stroke-width="2.4" stroke-linecap="round" stroke-linejoin="round" opacity="0.55"/><path d="M343.7 122.7L359 123.4L374.3 123.7" fill="none" stroke="#fcf2ef" stroke-width="2.7" stroke-linecap="round" stroke-linejoin="round" opacity="0.55"/><path d="M135.3 78.3L143.3 78.7L151.4 77.5" fill="none" stroke="#fcf2ef" stroke-width="2.7" stroke-linecap="round" stroke-linejoin="round" opacity="0.55"/><path d="M192.5 194L212.9 193.1L233.4 192.3" fill="none" stroke="#fcf2ef" stroke-width="3.0" stroke-linecap="round" stroke-linejoin="round" opacity="0.55"/><path d="M202.1 82.9L217.7 81.5L233.2 83" fill="none" stroke="#fcf2ef" stroke-width="1.8" stroke-linecap="round" stroke-linejoin="round" opacity="0.55"/><path d="M156.1 106.4L167.9 107.4L179.7 107.2" fill="none" stroke="#fcf2ef" stroke-width="1.9" stroke-linecap="round" stroke-linejoin="round" opacity="0.55"/><path d="M173.8 140.1L187 138.7L200.1 138.5" fill="none" stroke="#fcf2ef" stroke-width="1.6" stroke-linecap="round" stroke-linejoin="round" opacity="0.55"/><path d="M211.2 179.9L232.9 181L254.7 182.4" fill="none" stroke="#fcf2ef" stroke-width="2.1" stroke-linecap="round" stroke-linejoin="round" opacity="0.55"/><path d="M294.6 99.5L314.8 98.1L334.9 98.6" fill="none" stroke="#fcf2ef" stroke-width="3.0" stroke-linecap="round" stroke-linejoin="round" opacity="0.55"/><path d="M218.9 120.3L231.7 119.9L244.5 119.9" fill="none" stroke="#fcf2ef" stroke-width="1.2" stroke-linecap="round" stroke-linejoin="round" opacity="0.55"/><path d="M143.1 176.4L160.2 178L177.3 178" fill="none" stroke="#fcf2ef" stroke-width="2.5" stroke-linecap="round" stroke-linejoin="round" opacity="0.55"/></g>
<g><path d="M53 -1L262 -1L262 16L240 22L190 24.5L178 26L60 26L53 14Z" fill="#ffffff"/></g>
<use href="#land" fill="#000"/><use href="#sea_inl" fill="#fff"/><use href="#sea_hud" fill="#f7e5dd"/><use href="#sea_med" fill="#9bc29e"/><use href="#chan" stroke="#fff"/>
<use href="#ct"/>
</g>
<text x="9" y="178.3" font-size="29.3" font-weight="bold" xml:space="preserve" style="white-space:pre">% <tspan font-weight="normal" font-size="26">Δ</tspan> biomass (0)</text>
<rect x="0" y="0" width="353" height="201" fill="none" stroke="#000" stroke-width="1" shape-rendering="crispEdges"/>
</g>
<g transform="translate(14.5 232.5)">
<g clip-path="url(#pc)">
<rect x="0" y="0" width="353" height="201" fill="#f0f3ea"/>
<g filter="url(#b4)"><path d="M125.2 33.7L236.8 30.7L267 94L285.1 139.3L176.5 139.9L125.2 97.1Z" fill="#d5dfcb"/><ellipse cx="224.8" cy="121.2" rx="45.2" ry="13.6" fill="#a8c8a8" transform="rotate(8 224.8 121.2)"/><path d="M34.7 115.2L43.8 94L58.9 80.5L86 77.5L95 94L122.2 82L125.2 109.1L40.8 112.2Z" fill="#f2d9cd"/><path d="M25.7 113.7L122.2 110.6L122.2 136.3L25.7 136.3Z" fill="#b1cdae"/><ellipse cx="73.9" cy="121.2" rx="36.2" ry="4.8" fill="#188a7e" transform="rotate(-2 73.9 121.2)"/><path d="M0 138.7L122.2 136.9L206.7 139.3L276.1 145.3L276.1 151.4L0 151.4Z" fill="#f4dfd5"/><path d="M0 154.4L354.5 154.4L354.5 181.5L0 181.5Z" fill="#d3dec9"/><ellipse cx="137.3" cy="171.0" rx="30.2" ry="4.8" fill="#176e74"/><ellipse cx="49.8" cy="171.0" rx="22.6" ry="3.0" fill="#269480"/><ellipse cx="191.6" cy="187.6" rx="27.1" ry="10.6" fill="#f4dfd5"/><ellipse cx="245.9" cy="119.7" rx="21.1" ry="4.8" fill="#429d82" transform="rotate(10 245.9 119.7)"/><path d="M261 24.7L285.1 0.5L354.5 0.5L354.5 64.5L276.1 64.5Z" fill="#f7e5dd"/><path d="M276.1 66.9L342.4 66.9L354.5 85L327.3 94L297.2 85Z" fill="#a8c8a8"/><path d="M292.6 90.4L309.2 100.1L319.8 113.7" fill="none" stroke="#176e74" stroke-width="6.6" stroke-linecap="round" stroke-linejoin="round"/><path d="M315.3 110.6L354.5 110.6L354.5 125.7L315.3 124.2Z" fill="#58a585"/><path d="M309.2 124.2L354.5 125.7L354.5 139.3L309.2 139.3Z" fill="#c8d7be"/><ellipse cx="342.4" cy="104.6" rx="13.6" ry="1.8" fill="#cc6963"/><path d="M-1.5 94L14.2 94L17.2 115.2L-1.5 115.2Z" fill="#f2d9cd"/><path d="M-1.5 -1L54.3 -1L54.3 12.6L13.6 24.7L-1.5 42.8Z" fill="#c8d7be"/></g>
<g filter="url(#b1_5)"><ellipse cx="70.9" cy="121.2" rx="24.1" ry="2.1" fill="#1b5566" transform="rotate(-2 70.9 121.2)"/><ellipse cx="134.3" cy="172.5" rx="18.1" ry="2.4" fill="#192249"/><ellipse cx="46.8" cy="171.9" rx="12.1" ry="1.5" fill="#1d485e"/><ellipse cx="245.9" cy="119.7" rx="10.6" ry="2.1" fill="#157c79" transform="rotate(10 245.9 119.7)"/><path d="M297.2 92.5L310.7 100.7L318.9 110.6" fill="none" stroke="#1d485e" stroke-width="2.4" stroke-linecap="round" stroke-linejoin="round"/><path d="M131.2 90.4L206.7 88.6L261 90.4" fill="none" stroke="#fcf2ef" stroke-width="1.2" stroke-linecap="round" stroke-linejoin="round"/><path d="M152.4 100.7L267 100.1" fill="none" stroke="#fcf2ef" stroke-width="1.2" stroke-linecap="round" stroke-linejoin="round"/><ellipse cx="104.1" cy="100.7" rx="5.4" ry="6.6" fill="#dd9d84"/><ellipse cx="188.6" cy="161.0" rx="12.1" ry="0.9" fill="#b14062"/></g>
<g filter="url(#b1)"><path d="M337.5 191.1L344.6 192.1L351.6 191.7" fill="none" stroke="#fcf2ef" stroke-width="1.4" stroke-linecap="round" stroke-linejoin="round" opacity="0.5"/><path d="M236.4 82.4L253.9 81.5L271.4 82.7" fill="none" stroke="#fcf2ef" stroke-width="2.3" stroke-linecap="round" stroke-linejoin="round" opacity="0.5"/><path d="M152 96.9L171.8 98.1L191.5 99" fill="none" stroke="#fcf2ef" stroke-width="3.0" stroke-linecap="round" stroke-linejoin="round" opacity="0.5"/><path d="M157 75.6L163.7 75L170.4 75.5" fill="none" stroke="#fcf2ef" stroke-width="1.2" stroke-linecap="round" stroke-linejoin="round" opacity="0.5"/><path d="M134.1 181.6L150.1 179.7L166.1 180.6" fill="none" stroke="#fcf2ef" stroke-width="2.2" stroke-linecap="round" stroke-linejoin="round" opacity="0.5"/><path d="M114.8 53.2L130.5 52.6L146.2 53.9" fill="none" stroke="#fcf2ef" stroke-width="3.0" stroke-linecap="round" stroke-linejoin="round" opacity="0.5"/><path d="M315.4 165.4L335.4 166.9L355.3 166.7" fill="none" stroke="#fcf2ef" stroke-width="2.8" stroke-linecap="round" stroke-linejoin="round" opacity="0.5"/><path d="M124.9 196.8L149.2 198.2L173.4 198.2" fill="none" stroke="#fcf2ef" stroke-width="1.5" stroke-linecap="round" stroke-linejoin="round" opacity="0.5"/><path d="M162.9 120.2L178.2 121.2L193.5 120.2" fill="none" stroke="#fcf2ef" stroke-width="2.9" stroke-linecap="round" stroke-linejoin="round" opacity="0.5"/><path d="M124.9 180.1L148 181.5L171.1 180.5" fill="none" stroke="#fcf2ef" stroke-width="2.0" stroke-linecap="round" stroke-linejoin="round" opacity="0.5"/><path d="M255.5 112.7L265.7 112L275.9 113.2" fill="none" stroke="#fcf2ef" stroke-width="1.8" stroke-linecap="round" stroke-linejoin="round" opacity="0.5"/><path d="M320.5 75.6L343.8 77.5L367.1 78.1" fill="none" stroke="#fcf2ef" stroke-width="1.8" stroke-linecap="round" stroke-linejoin="round" opacity="0.5"/><path d="M178 118L196.4 116.7L214.8 117.2" fill="none" stroke="#fcf2ef" stroke-width="2.3" stroke-linecap="round" stroke-linejoin="round" opacity="0.5"/><path d="M180.7 188.8L198.5 190.2L216.4 190.2" fill="none" stroke="#fcf2ef" stroke-width="1.3" stroke-linecap="round" stroke-linejoin="round" opacity="0.5"/><path d="M320.4 62.5L340.6 62.2L360.7 63.3" fill="none" stroke="#fcf2ef" stroke-width="1.3" stroke-linecap="round" stroke-linejoin="round" opacity="0.5"/><path d="M80 178.8L88 178.4L96 179.5" fill="none" stroke="#fcf2ef" stroke-width="2.1" stroke-linecap="round" stroke-linejoin="round" opacity="0.5"/><path d="M74.3 179.7L88.3 178.5L102.4 178.1" fill="none" stroke="#fcf2ef" stroke-width="2.5" stroke-linecap="round" stroke-linejoin="round" opacity="0.5"/><path d="M60.7 144.4L68.2 144.6L75.8 143.5" fill="none" stroke="#fcf2ef" stroke-width="2.9" stroke-linecap="round" stroke-linejoin="round" opacity="0.5"/><path d="M7.5 73.5L28.9 73.2L50.4 71.8" fill="none" stroke="#fcf2ef" stroke-width="1.5" stroke-linecap="round" stroke-linejoin="round" opacity="0.5"/><path d="M136.1 37.3L160.9 35.5L185.7 34.6" fill="none" stroke="#fcf2ef" stroke-width="1.5" stroke-linecap="round" stroke-linejoin="round" opacity="0.5"/><path d="M217.2 156.2L225.3 155.6L233.5 155.3" fill="none" stroke="#fcf2ef" stroke-width="1.8" stroke-linecap="round" stroke-linejoin="round" opacity="0.5"/><path d="M270.4 155.8L293.5 157.4L316.7 157.8" fill="none" stroke="#fcf2ef" stroke-width="2.6" stroke-linecap="round" stroke-linejoin="round" opacity="0.5"/><path d="M166.9 68.3L185.4 67.3L204 66.6" fill="none" stroke="#fcf2ef" stroke-width="1.8" stroke-linecap="round" stroke-linejoin="round" opacity="0.5"/><path d="M308.8 51.7L325.9 50.6L343 51.7" fill="none" stroke="#fcf2ef" stroke-width="1.9" stroke-linecap="round" stroke-linejoin="round" opacity="0.5"/><path d="M338.8 74L356.3 73.2L373.8 72" fill="none" stroke="#fcf2ef" stroke-width="2.0" stroke-linecap="round" stroke-linejoin="round" opacity="0.5"/><path d="M49.6 39.7L56.3 39.7L62.9 39" fill="none" stroke="#fcf2ef" stroke-width="1.5" stroke-linecap="round" stroke-linejoin="round" opacity="0.5"/><path d="M179.4 197.2L203.2 196.3L226.9 195.7" fill="none" stroke="#fcf2ef" stroke-width="3.0" stroke-linecap="round" stroke-linejoin="round" opacity="0.5"/><path d="M88.5 130.5L106.4 130.2L124.2 131.4" fill="none" stroke="#fcf2ef" stroke-width="2.6" stroke-linecap="round" stroke-linejoin="round" opacity="0.5"/><path d="M149.3 119.5L155.4 118.2L161.5 119.3" fill="none" stroke="#fcf2ef" stroke-width="1.3" stroke-linecap="round" stroke-linejoin="round" opacity="0.5"/><path d="M255.5 70.9L263.4 69.8L271.3 70.4" fill="none" stroke="#fcf2ef" stroke-width="1.5" stroke-linecap="round" stroke-linejoin="round" opacity="0.5"/><path d="M183.8 108.9L195.7 109.8L207.6 108.1" fill="none" stroke="#fcf2ef" stroke-width="2.4" stroke-linecap="round" stroke-linejoin="round" opacity="0.5"/><path d="M340 153.9L354.2 152.7L368.5 154.2" fill="none" stroke="#fcf2ef" stroke-width="2.1" stroke-linecap="round" stroke-linejoin="round" opacity="0.5"/><path d="M147.6 119.3L157 119.2L166.4 119.9" fill="none" stroke="#fcf2ef" stroke-width="1.4" stroke-linecap="round" stroke-linejoin="round" opacity="0.5"/><path d="M183.3 186.6L200.9 187.3L218.5 188.7" fill="none" stroke="#fcf2ef" stroke-width="1.7" stroke-linecap="round" stroke-linejoin="round" opacity="0.5"/><path d="M6.7 146.5L14.6 147.3L22.6 147.2" fill="none" stroke="#fcf2ef" stroke-width="1.8" stroke-linecap="round" stroke-linejoin="round" opacity="0.5"/><path d="M5.5 106.7L19.4 106.5L33.2 105.8" fill="none" stroke="#fcf2ef" stroke-width="2.1" stroke-linecap="round" stroke-linejoin="round" opacity="0.5"/><path d="M26 78.3L39.1 78.4L52.2 77" fill="none" stroke="#fcf2ef" stroke-width="2.9" stroke-linecap="round" stroke-linejoin="round" opacity="0.5"/><path d="M67.9 127.2L81.3 127.3L94.8 128" fill="none" stroke="#fcf2ef" stroke-width="2.0" stroke-linecap="round" stroke-linejoin="round" opacity="0.5"/><path d="M43 50.7L50.5 52.2L58 51" fill="none" stroke="#fcf2ef" stroke-width="2.7" stroke-linecap="round" stroke-linejoin="round" opacity="0.5"/><path d="M244.5 34.2L263 34.7L281.6 35.2" fill="none" stroke="#fcf2ef" stroke-width="2.6" stroke-linecap="round" stroke-linejoin="round" opacity="0.5"/><path d="M126.2 107.7L147.4 107.7L168.6 107.8" fill="none" stroke="#fcf2ef" stroke-width="1.7" stroke-linecap="round" stroke-linejoin="round" opacity="0.5"/><path d="M337 166.7L360.7 165.4L384.4 165.6" fill="none" stroke="#fcf2ef" stroke-width="2.7" stroke-linecap="round" stroke-linejoin="round" opacity="0.5"/><path d="M172.5 74.1L186.7 75.1L200.8 75.5" fill="none" stroke="#fcf2ef" stroke-width="2.4" stroke-linecap="round" stroke-linejoin="round" opacity="0.5"/><path d="M288.7 46.3L301.5 45.5L314.2 45.2" fill="none" stroke="#fcf2ef" stroke-width="3.0" stroke-linecap="round" stroke-linejoin="round" opacity="0.5"/><path d="M23.6 44.6L46.6 43.9L69.6 45.5" fill="none" stroke="#fcf2ef" stroke-width="3.0" stroke-linecap="round" stroke-linejoin="round" opacity="0.5"/><path d="M104.6 69.4L123.4 69.3L142.1 69.1" fill="none" stroke="#fcf2ef" stroke-width="2.4" stroke-linecap="round" stroke-linejoin="round" opacity="0.5"/><path d="M39.6 122L63.6 120.8L87.7 119.6" fill="none" stroke="#fcf2ef" stroke-width="2.6" stroke-linecap="round" stroke-linejoin="round" opacity="0.5"/><path d="M252.5 73.7L275.5 74L298.5 74.9" fill="none" stroke="#fcf2ef" stroke-width="2.0" stroke-linecap="round" stroke-linejoin="round" opacity="0.5"/><path d="M351.3 163.1L368.2 161.5L385.1 162.8" fill="none" stroke="#fcf2ef" stroke-width="1.5" stroke-linecap="round" stroke-linejoin="round" opacity="0.5"/><path d="M210.1 179.9L219.5 179.6L228.9 179.9" fill="none" stroke="#fcf2ef" stroke-width="2.1" stroke-linecap="round" stroke-linejoin="round" opacity="0.5"/><path d="M250.8 189.2L270.2 189.8L289.6 191.4" fill="none" stroke="#fcf2ef" stroke-width="2.1" stroke-linecap="round" stroke-linejoin="round" opacity="0.5"/><path d="M263.2 141.9L283.7 141.6L304.1 140.6" fill="none" stroke="#fcf2ef" stroke-width="2.7" stroke-linecap="round" stroke-linejoin="round" opacity="0.5"/><path d="M142.2 143.4L166.7 141.8L191.3 140.5" fill="none" stroke="#fcf2ef" stroke-width="2.3" stroke-linecap="round" stroke-linejoin="round" opacity="0.5"/><path d="M251.2 180.1L269.5 180.4L287.9 178" fill="none" stroke="#fcf2ef" stroke-width="2.7" stroke-linecap="round" stroke-linejoin="round" opacity="0.5"/><path d="M257.5 133.1L280.7 132.9L303.9 130.9" fill="none" stroke="#fcf2ef" stroke-width="2.8" stroke-linecap="round" stroke-linejoin="round" opacity="0.5"/><path d="M270.8 63.9L290.9 64.1L311 62.4" fill="none" stroke="#fcf2ef" stroke-width="2.3" stroke-linecap="round" stroke-linejoin="round" opacity="0.5"/><path d="M48.7 134.1L62.9 134.1L77.2 134.3" fill="none" stroke="#fcf2ef" stroke-width="1.7" stroke-linecap="round" stroke-linejoin="round" opacity="0.5"/><path d="M72.4 194.4L79.7 195.4L87.1 194.3" fill="none" stroke="#fcf2ef" stroke-width="1.2" stroke-linecap="round" stroke-linejoin="round" opacity="0.5"/><path d="M232.4 158.3L247.6 157.3L262.8 157.7" fill="none" stroke="#fcf2ef" stroke-width="2.4" stroke-linecap="round" stroke-linejoin="round" opacity="0.5"/><path d="M177.5 34.7L185 35.1L192.6 34.1" fill="none" stroke="#fcf2ef" stroke-width="2.6" stroke-linecap="round" stroke-linejoin="round" opacity="0.5"/><path d="M276.9 98.8L295.7 98.5L314.5 100.4" fill="none" stroke="#fcf2ef" stroke-width="2.6" stroke-linecap="round" stroke-linejoin="round" opacity="0.5"/><path d="M57.4 94.9L72.2 94.2L87 93.1" fill="none" stroke="#fcf2ef" stroke-width="1.7" stroke-linecap="round" stroke-linejoin="round" opacity="0.5"/><path d="M341.3 92.3L357.5 93.3L373.8 92.1" fill="none" stroke="#fcf2ef" stroke-width="1.9" stroke-linecap="round" stroke-linejoin="round" opacity="0.5"/><path d="M108.9 140.3L124.1 139.8L139.3 141.9" fill="none" stroke="#fcf2ef" stroke-width="2.2" stroke-linecap="round" stroke-linejoin="round" opacity="0.5"/><path d="M291 81.7L309.3 81.7L327.6 82.4" fill="none" stroke="#fcf2ef" stroke-width="2.6" stroke-linecap="round" stroke-linejoin="round" opacity="0.5"/><path d="M296.8 45.8L314.8 46.9L332.8 45.9" fill="none" stroke="#fcf2ef" stroke-width="1.9" stroke-linecap="round" stroke-linejoin="round" opacity="0.5"/><path d="M281.6 136.9L293.5 136L305.4 136.8" fill="none" stroke="#fcf2ef" stroke-width="1.6" stroke-linecap="round" stroke-linejoin="round" opacity="0.5"/><path d="M98 192.8L106.1 192.3L114.2 192.6" fill="none" stroke="#fcf2ef" stroke-width="2.7" stroke-linecap="round" stroke-linejoin="round" opacity="0.5"/><path d="M112.4 43.2L127.1 42.4L141.8 43" fill="none" stroke="#fcf2ef" stroke-width="1.5" stroke-linecap="round" stroke-linejoin="round" opacity="0.5"/><path d="M315.8 186.7L330.2 186.9L344.6 188.2" fill="none" stroke="#fcf2ef" stroke-width="2.4" stroke-linecap="round" stroke-linejoin="round" opacity="0.5"/><path d="M35.1 70.4L44.7 69.9L54.3 70.1" fill="none" stroke="#fcf2ef" stroke-width="2.4" stroke-linecap="round" stroke-linejoin="round" opacity="0.5"/><path d="M280.7 69.6L302 70.4L323.4 69.1" fill="none" stroke="#fcf2ef" stroke-width="2.3" stroke-linecap="round" stroke-linejoin="round" opacity="0.5"/><path d="M120.8 179.4L144.4 181.2L168 180.4" fill="none" stroke="#fcf2ef" stroke-width="2.1" stroke-linecap="round" stroke-linejoin="round" opacity="0.5"/><path d="M262.1 157.7L284.6 159.8L307.2 159" fill="none" stroke="#fcf2ef" stroke-width="2.9" stroke-linecap="round" stroke-linejoin="round" opacity="0.5"/><path d="M102.9 135.8L121.7 134.6L140.4 135.4" fill="none" stroke="#fcf2ef" stroke-width="1.9" stroke-linecap="round" stroke-linejoin="round" opacity="0.5"/><path d="M338.1 90.2L353.1 91L368.2 89" fill="none" stroke="#fcf2ef" stroke-width="2.8" stroke-linecap="round" stroke-linejoin="round" opacity="0.5"/><path d="M44.9 34.8L57.5 36.5L70.2 36" fill="none" stroke="#fcf2ef" stroke-width="1.8" stroke-linecap="round" stroke-linejoin="round" opacity="0.5"/><path d="M268.8 104.2L285.1 104.5L301.5 105.5" fill="none" stroke="#fcf2ef" stroke-width="1.6" stroke-linecap="round" stroke-linejoin="round" opacity="0.5"/><path d="M100.5 138.4L109.3 137.7L118.2 139.3" fill="none" stroke="#fcf2ef" stroke-width="1.8" stroke-linecap="round" stroke-linejoin="round" opacity="0.5"/><path d="M50.2 64.7L61 63.9L71.7 64.1" fill="none" stroke="#fcf2ef" stroke-width="2.0" stroke-linecap="round" stroke-linejoin="round" opacity="0.5"/></g>
<g><path d="M53 -1L262 -1L262 16L240 22L190 24.5L178 26L60 26L53 14Z" fill="#ffffff"/></g>
<use href="#land" fill="#000"/><use href="#sea_inl" fill="#fff"/><use href="#sea_hud" fill="#fbf0ec"/><use href="#sea_med" fill="#d3dec9"/><use href="#chan" stroke="#fff"/>
<use href="#ct"/>
</g>
<text x="9" y="178.3" font-size="29.3" font-weight="bold" xml:space="preserve" style="white-space:pre">% <tspan font-weight="normal" font-size="26">Δ</tspan> PP (-1)</text>
<rect x="0" y="0" width="353" height="201" fill="none" stroke="#000" stroke-width="1" shape-rendering="crispEdges"/>
</g>
<g transform="translate(14.5 439.5)">
<g clip-path="url(#pc)">
<rect x="0" y="0" width="353" height="201" fill="#f6f0ea"/>
<g filter="url(#b4)"><path d="M125.2 69.9L251.9 68.4L261 82.6L125.2 83.8Z" fill="#9fc4a1"/><path d="M137.3 33.7L182.5 33.7L164.4 54.8L137.3 60.9Z" fill="#ccd9c2"/><path d="M146.3 106.1L285.1 106.1L286.6 139.9L176.5 139.9Z" fill="#c3d5bb"/><ellipse cx="236.8" cy="119.7" rx="36.2" ry="9.1" fill="#972763" transform="rotate(12 236.8 119.7)"/><path d="M34.7 115.2L43.8 94L58.9 80.5L86 77.5L95 94L122.2 82L125.2 109.1L40.8 112.8Z" fill="#edcebc"/><path d="M1.5 113.7L122.2 111.5L122.2 136.3L1.5 136.3Z" fill="#96c09b"/><ellipse cx="70.9" cy="122.7" rx="39.2" ry="5.4" fill="#157c79" transform="rotate(-3 70.9 122.7)"/><path d="M0 138.7L354.5 139.3L354.5 187.6L0 187.6Z" fill="#f2d9cd"/><ellipse cx="43.8" cy="169.5" rx="15.1" ry="3.0" fill="#d27d69"/><ellipse cx="164.4" cy="171.0" rx="10.6" ry="4.2" fill="#c35a60"/><ellipse cx="261.0" cy="154.4" rx="9.1" ry="3.0" fill="#d27d69"/><path d="M261 24.7L285.1 0.5L354.5 0.5L354.5 64.5L276.1 64.5Z" fill="#f9eae4"/><path d="M276.1 66.9L342.4 66.9L354.5 85L327.3 94L297.2 85Z" fill="#a8c8a8"/><path d="M292.6 88L309.2 100.1L321.3 113.7" fill="none" stroke="#157c79" stroke-width="6.6" stroke-linecap="round" stroke-linejoin="round"/><path d="M315.3 109.1L354.5 107.6L354.5 121.2L315.3 122.7Z" fill="#269480"/><path d="M306.2 122.7L354.5 121.2L354.5 139.3L306.2 139.3Z" fill="#bad1b4"/><ellipse cx="342.4" cy="103.7" rx="13.6" ry="2.1" fill="#cc6963"/><ellipse cx="285.1" cy="76.6" rx="10.6" ry="2.4" fill="#d27d69"/><ellipse cx="319.8" cy="127.2" rx="3.6" ry="6.6" fill="#dd9d84"/><path d="M-1.5 94L14.2 94L17.2 115.2L-1.5 115.2Z" fill="#edcebc"/><path d="M-1.5 -1L54.3 -1L54.3 12.6L13.6 24.7L-1.5 42.8Z" fill="#f9eae4"/></g>
<g filter="url(#b1_5)"><ellipse cx="242.9" cy="121.2" rx="22.6" ry="3.6" fill="#350e36" transform="rotate(14 242.9 121.2)"/><ellipse cx="215.7" cy="113.7" rx="15.1" ry="2.1" fill="#972763" transform="rotate(8 215.7 113.7)"/><ellipse cx="251.9" cy="127.2" rx="2.4" ry="1.5" fill="#faece6"/><ellipse cx="67.9" cy="122.7" rx="27.1" ry="2.1" fill="#1d485e" transform="rotate(-3 67.9 122.7)"/><path d="M297.2 91.6L310.7 100.7L318.9 110.6" fill="none" stroke="#1d485e" stroke-width="2.4" stroke-linecap="round" stroke-linejoin="round"/><path d="M131.2 91L206.7 89.5L261 91" fill="none" stroke="#fcf2ef" stroke-width="1.5" stroke-linecap="round" stroke-linejoin="round"/><path d="M152.4 100.7L267 100.1" fill="none" stroke="#fcf2ef" stroke-width="1.5" stroke-linecap="round" stroke-linejoin="round"/><ellipse cx="336.4" cy="114.6" rx="18.1" ry="1.8" fill="#1b5566"/></g>
<g filter="url(#b1)"><path d="M84 122.5L97 121.4L110.1 122.9" fill="none" stroke="#fcf2ef" stroke-width="2.3" stroke-linecap="round" stroke-linejoin="round" opacity="0.5"/><path d="M4.6 172.4L15.6 172.9L26.5 173.7" fill="none" stroke="#fcf2ef" stroke-width="1.6" stroke-linecap="round" stroke-linejoin="round" opacity="0.5"/><path d="M295.3 111L313.4 112.4L331.6 111.6" fill="none" stroke="#fcf2ef" stroke-width="1.5" stroke-linecap="round" stroke-linejoin="round" opacity="0.5"/><path d="M184.7 156L203.4 156.9L222.2 157.2" fill="none" stroke="#fcf2ef" stroke-width="1.3" stroke-linecap="round" stroke-linejoin="round" opacity="0.5"/><path d="M106.3 35.3L128.8 37L151.2 36.5" fill="none" stroke="#fcf2ef" stroke-width="2.1" stroke-linecap="round" stroke-linejoin="round" opacity="0.5"/><path d="M252.1 186.6L265.6 187.8L279.1 186.4" fill="none" stroke="#fcf2ef" stroke-width="2.6" stroke-linecap="round" stroke-linejoin="round" opacity="0.5"/><path d="M310.2 46.6L318.8 46.9L327.4 47.5" fill="none" stroke="#fcf2ef" stroke-width="1.6" stroke-linecap="round" stroke-linejoin="round" opacity="0.5"/><path d="M221.2 81.2L236.8 81.1L252.5 80.6" fill="none" stroke="#fcf2ef" stroke-width="1.9" stroke-linecap="round" stroke-linejoin="round" opacity="0.5"/><path d="M206.2 183.7L225.2 186L244.2 185.3" fill="none" stroke="#fcf2ef" stroke-width="2.9" stroke-linecap="round" stroke-linejoin="round" opacity="0.5"/><path d="M237 57.7L259.3 59L281.7 59.9" fill="none" stroke="#fcf2ef" stroke-width="2.9" stroke-linecap="round" stroke-linejoin="round" opacity="0.5"/><path d="M252 65.9L273.8 64L295.6 64.8" fill="none" stroke="#fcf2ef" stroke-width="2.2" stroke-linecap="round" stroke-linejoin="round" opacity="0.5"/><path d="M301.4 198.3L309.1 197.1L316.8 198.1" fill="none" stroke="#fcf2ef" stroke-width="2.6" stroke-linecap="round" stroke-linejoin="round" opacity="0.5"/><path d="M103.7 160.7L126.3 159.6L148.9 161.3" fill="none" stroke="#fcf2ef" stroke-width="1.3" stroke-linecap="round" stroke-linejoin="round" opacity="0.5"/><path d="M253.6 86.3L276.3 87.8L299.1 86.3" fill="none" stroke="#fcf2ef" stroke-width="3.0" stroke-linecap="round" stroke-linejoin="round" opacity="0.5"/><path d="M109.3 43.1L126.7 42.2L144.1 41.8" fill="none" stroke="#fcf2ef" stroke-width="1.3" stroke-linecap="round" stroke-linejoin="round" opacity="0.5"/><path d="M215.5 56.6L222.3 57.8L229.1 56.2" fill="none" stroke="#fcf2ef" stroke-width="2.8" stroke-linecap="round" stroke-linejoin="round" opacity="0.5"/><path d="M316.5 94.2L331.3 94.8L346 94.7" fill="none" stroke="#fcf2ef" stroke-width="2.1" stroke-linecap="round" stroke-linejoin="round" opacity="0.5"/><path d="M197.4 135.4L221.3 135.9L245.2 135" fill="none" stroke="#fcf2ef" stroke-width="2.1" stroke-linecap="round" stroke-linejoin="round" opacity="0.5"/><path d="M83.9 81.2L108.5 79.9L133 81.5" fill="none" stroke="#fcf2ef" stroke-width="2.1" stroke-linecap="round" stroke-linejoin="round" opacity="0.5"/><path d="M146.6 128.6L153 127.4L159.3 128.8" fill="none" stroke="#fcf2ef" stroke-width="2.3" stroke-linecap="round" stroke-linejoin="round" opacity="0.5"/><path d="M221.5 109.3L240.4 110.4L259.3 110.2" fill="none" stroke="#fcf2ef" stroke-width="1.8" stroke-linecap="round" stroke-linejoin="round" opacity="0.5"/><path d="M7.8 40.3L26.7 39.6L45.5 39.2" fill="none" stroke="#fcf2ef" stroke-width="2.9" stroke-linecap="round" stroke-linejoin="round" opacity="0.5"/><path d="M209.2 84.4L222.1 84.5L235 84" fill="none" stroke="#fcf2ef" stroke-width="1.8" stroke-linecap="round" stroke-linejoin="round" opacity="0.5"/><path d="M106 94.1L126.7 95L147.4 94.5" fill="none" stroke="#fcf2ef" stroke-width="1.2" stroke-linecap="round" stroke-linejoin="round" opacity="0.5"/><path d="M109.4 67.8L130.7 66.8L152 66.2" fill="none" stroke="#fcf2ef" stroke-width="1.6" stroke-linecap="round" stroke-linejoin="round" opacity="0.5"/><path d="M246.4 47.3L258.5 47.6L270.7 48.3" fill="none" stroke="#fcf2ef" stroke-width="1.8" stroke-linecap="round" stroke-linejoin="round" opacity="0.5"/><path d="M302 58.8L314.4 59.2L326.8 59.9" fill="none" stroke="#fcf2ef" stroke-width="2.4" stroke-linecap="round" stroke-linejoin="round" opacity="0.5"/><path d="M79.4 50.6L95.5 52.2L111.6 51.7" fill="none" stroke="#fcf2ef" stroke-width="1.5" stroke-linecap="round" stroke-linejoin="round" opacity="0.5"/><path d="M64.8 77.4L86.1 77.7L107.5 78.9" fill="none" stroke="#fcf2ef" stroke-width="2.4" stroke-linecap="round" stroke-linejoin="round" opacity="0.5"/><path d="M45.8 79.6L66.9 79L87.9 78.9" fill="none" stroke="#fcf2ef" stroke-width="1.7" stroke-linecap="round" stroke-linejoin="round" opacity="0.5"/><path d="M148.2 99.6L171.7 99.6L195.2 96.8" fill="none" stroke="#fcf2ef" stroke-width="1.5" stroke-linecap="round" stroke-linejoin="round" opacity="0.5"/><path d="M310.6 197.8L324.9 197.7L339.1 199.2" fill="none" stroke="#fcf2ef" stroke-width="2.9" stroke-linecap="round" stroke-linejoin="round" opacity="0.5"/><path d="M263.2 172.2L281.8 171.3L300.4 171.3" fill="none" stroke="#fcf2ef" stroke-width="2.1" stroke-linecap="round" stroke-linejoin="round" opacity="0.5"/><path d="M80.3 41.6L97.5 40.8L114.7 42.9" fill="none" stroke="#fcf2ef" stroke-width="1.7" stroke-linecap="round" stroke-linejoin="round" opacity="0.5"/><path d="M319 147.9L342.5 149.3L366.1 150.2" fill="none" stroke="#fcf2ef" stroke-width="2.8" stroke-linecap="round" stroke-linejoin="round" opacity="0.5"/><path d="M4.6 156.7L13.9 157L23.2 157.1" fill="none" stroke="#fcf2ef" stroke-width="1.7" stroke-linecap="round" stroke-linejoin="round" opacity="0.5"/><path d="M146.1 189.6L163.7 190.2L181.3 188.6" fill="none" stroke="#fcf2ef" stroke-width="1.8" stroke-linecap="round" stroke-linejoin="round" opacity="0.5"/><path d="M168.5 163L181.1 164L193.8 163.1" fill="none" stroke="#fcf2ef" stroke-width="1.6" stroke-linecap="round" stroke-linejoin="round" opacity="0.5"/><path d="M60.5 164.6L84 164L107.5 166.4" fill="none" stroke="#fcf2ef" stroke-width="2.7" stroke-linecap="round" stroke-linejoin="round" opacity="0.5"/><path d="M221.9 176.6L228.8 176.5L235.8 176.2" fill="none" stroke="#fcf2ef" stroke-width="1.7" stroke-linecap="round" stroke-linejoin="round" opacity="0.5"/><path d="M149.3 110.4L170.1 108.2L190.8 108.2" fill="none" stroke="#fcf2ef" stroke-width="1.2" stroke-linecap="round" stroke-linejoin="round" opacity="0.5"/><path d="M44 41.6L68.5 40.4L93 39.2" fill="none" stroke="#fcf2ef" stroke-width="2.7" stroke-linecap="round" stroke-linejoin="round" opacity="0.5"/><path d="M111.5 83.5L124.2 83.2L136.9 83.7" fill="none" stroke="#fcf2ef" stroke-width="2.4" stroke-linecap="round" stroke-linejoin="round" opacity="0.5"/><path d="M67.5 85.9L75.8 85.7L84.2 86.3" fill="none" stroke="#fcf2ef" stroke-width="2.2" stroke-linecap="round" stroke-linejoin="round" opacity="0.5"/><path d="M28.2 60.4L41.3 60.4L54.4 61.2" fill="none" stroke="#fcf2ef" stroke-width="2.3" stroke-linecap="round" stroke-linejoin="round" opacity="0.5"/><path d="M282.8 135.9L297 136.5L311.2 135.9" fill="none" stroke="#fcf2ef" stroke-width="1.9" stroke-linecap="round" stroke-linejoin="round" opacity="0.5"/><path d="M148.4 148L163.2 148.6L178 148.1" fill="none" stroke="#fcf2ef" stroke-width="1.6" stroke-linecap="round" stroke-linejoin="round" opacity="0.5"/><path d="M25.3 102.2L39.4 102.6L53.5 103.7" fill="none" stroke="#fcf2ef" stroke-width="2.8" stroke-linecap="round" stroke-linejoin="round" opacity="0.5"/><path d="M316.9 164.5L327.9 164.9L338.9 163.5" fill="none" stroke="#fcf2ef" stroke-width="2.0" stroke-linecap="round" stroke-linejoin="round" opacity="0.5"/><path d="M233.8 180.8L254.8 181.6L275.9 182" fill="none" stroke="#fcf2ef" stroke-width="2.4" stroke-linecap="round" stroke-linejoin="round" opacity="0.5"/><path d="M36.4 129.9L42.5 128.8L48.6 130.3" fill="none" stroke="#fcf2ef" stroke-width="1.5" stroke-linecap="round" stroke-linejoin="round" opacity="0.5"/><path d="M32.4 46.9L55.1 46.6L77.9 44.3" fill="none" stroke="#fcf2ef" stroke-width="1.5" stroke-linecap="round" stroke-linejoin="round" opacity="0.5"/><path d="M42.8 173.5L61.6 174.7L80.4 175.5" fill="none" stroke="#fcf2ef" stroke-width="2.7" stroke-linecap="round" stroke-linejoin="round" opacity="0.5"/><path d="M282 36.2L302.5 35.5L323.1 37.2" fill="none" stroke="#fcf2ef" stroke-width="2.1" stroke-linecap="round" stroke-linejoin="round" opacity="0.5"/><path d="M264.4 188.9L271.5 189.9L278.7 189" fill="none" stroke="#fcf2ef" stroke-width="1.8" stroke-linecap="round" stroke-linejoin="round" opacity="0.5"/><path d="M85.5 60.6L96.2 60.6L107 61.2" fill="none" stroke="#fcf2ef" stroke-width="2.3" stroke-linecap="round" stroke-linejoin="round" opacity="0.5"/><path d="M129.7 97.4L142.4 96.8L155 96.2" fill="none" stroke="#fcf2ef" stroke-width="2.0" stroke-linecap="round" stroke-linejoin="round" opacity="0.5"/><path d="M343.5 100.2L363.7 101.4L383.9 101.1" fill="none" stroke="#fcf2ef" stroke-width="1.5" stroke-linecap="round" stroke-linejoin="round" opacity="0.5"/><path d="M237.9 117.9L253.1 117.6L268.3 119.4" fill="none" stroke="#fcf2ef" stroke-width="2.4" stroke-linecap="round" stroke-linejoin="round" opacity="0.5"/><path d="M33.8 157.2L57.3 157.7L80.7 156.9" fill="none" stroke="#fcf2ef" stroke-width="2.1" stroke-linecap="round" stroke-linejoin="round" opacity="0.5"/><path d="M65.7 75.5L75.5 74.4L85.3 75" fill="none" stroke="#fcf2ef" stroke-width="2.3" stroke-linecap="round" stroke-linejoin="round" opacity="0.5"/><path d="M244 192.1L255.6 193L267.2 191.8" fill="none" stroke="#fcf2ef" stroke-width="2.5" stroke-linecap="round" stroke-linejoin="round" opacity="0.5"/><path d="M206.4 75.4L216.5 75L226.6 75.4" fill="none" stroke="#fcf2ef" stroke-width="1.2" stroke-linecap="round" stroke-linejoin="round" opacity="0.5"/><path d="M60.8 91.3L72.9 92.2L85 90.2" fill="none" stroke="#fcf2ef" stroke-width="2.6" stroke-linecap="round" stroke-linejoin="round" opacity="0.5"/><path d="M169.3 131.8L184.2 132.6L199.1 133" fill="none" stroke="#fcf2ef" stroke-width="2.7" stroke-linecap="round" stroke-linejoin="round" opacity="0.5"/><path d="M169.9 152.5L192.2 154.5L214.5 153.8" fill="none" stroke="#fcf2ef" stroke-width="1.9" stroke-linecap="round" stroke-linejoin="round" opacity="0.5"/><path d="M165 69L175.5 70.6L185.9 69.5" fill="none" stroke="#fcf2ef" stroke-width="2.5" stroke-linecap="round" stroke-linejoin="round" opacity="0.5"/><path d="M301.4 71.2L311 71.4L320.6 70.4" fill="none" stroke="#fcf2ef" stroke-width="1.7" stroke-linecap="round" stroke-linejoin="round" opacity="0.5"/><path d="M303.1 183L313.9 182.5L324.8 182.5" fill="none" stroke="#fcf2ef" stroke-width="2.8" stroke-linecap="round" stroke-linejoin="round" opacity="0.5"/><path d="M257.3 44.6L265.1 44L272.8 44.2" fill="none" stroke="#fcf2ef" stroke-width="2.7" stroke-linecap="round" stroke-linejoin="round" opacity="0.5"/><path d="M204.8 144.8L211 144.7L217.1 144.7" fill="none" stroke="#fcf2ef" stroke-width="1.8" stroke-linecap="round" stroke-linejoin="round" opacity="0.5"/><path d="M74.2 129.5L98.3 128.5L122.5 129.7" fill="none" stroke="#fcf2ef" stroke-width="1.9" stroke-linecap="round" stroke-linejoin="round" opacity="0.5"/><path d="M97 143.1L105.1 142.3L113.3 143.9" fill="none" stroke="#fcf2ef" stroke-width="2.8" stroke-linecap="round" stroke-linejoin="round" opacity="0.5"/><path d="M332.3 93.6L353 93.6L373.6 92.6" fill="none" stroke="#fcf2ef" stroke-width="2.6" stroke-linecap="round" stroke-linejoin="round" opacity="0.5"/><path d="M230.9 167L241.9 168.2L253 168.3" fill="none" stroke="#fcf2ef" stroke-width="2.6" stroke-linecap="round" stroke-linejoin="round" opacity="0.5"/><path d="M189.3 49.3L204.7 50.2L220 50.1" fill="none" stroke="#fcf2ef" stroke-width="1.8" stroke-linecap="round" stroke-linejoin="round" opacity="0.5"/><path d="M199.9 60.9L218.2 61.4L236.5 59.5" fill="none" stroke="#fcf2ef" stroke-width="2.3" stroke-linecap="round" stroke-linejoin="round" opacity="0.5"/><path d="M231.3 50.9L255.1 51.1L278.8 50" fill="none" stroke="#fcf2ef" stroke-width="1.5" stroke-linecap="round" stroke-linejoin="round" opacity="0.5"/><path d="M210.9 124.3L229.2 123L247.5 123.5" fill="none" stroke="#fcf2ef" stroke-width="2.0" stroke-linecap="round" stroke-linejoin="round" opacity="0.5"/><path d="M24.2 151.7L44.5 151.9L64.9 152.9" fill="none" stroke="#fcf2ef" stroke-width="2.2" stroke-linecap="round" stroke-linejoin="round" opacity="0.5"/></g>
<g><path d="M53 -1L262 -1L262 16L240 22L190 24.5L178 26L60 26L53 14Z" fill="#ffffff"/></g>
<use href="#land" fill="#000"/><use href="#sea_inl" fill="#fff"/><use href="#sea_hud" fill="#fbf0ec"/><use href="#sea_med" fill="#f9eae4"/><use href="#chan" stroke="#fff"/>
<use href="#ct"/>
</g>
<text x="9" y="178.3" font-size="29.3" font-weight="bold" xml:space="preserve" style="white-space:pre">% <tspan font-weight="normal" font-size="26">Δ</tspan> GR (0)</text>
<rect x="0" y="0" width="353" height="201" fill="none" stroke="#000" stroke-width="1" shape-rendering="crispEdges"/>
</g>
<g transform="translate(14.5 646.5)">
<g clip-path="url(#pc)">
<rect x="0" y="0" width="353" height="201" fill="#fef6f4"/>
<g filter="url(#b2)"><path d="M119.8 63.3L164.4 62.1L193.1 62.7L193.1 72.3L164.4 74.1L121.6 76.6Z" fill="#cf7566"/><path d="M191.6 63.9L215.7 64.5L212.7 72.3L191.6 72.3Z" fill="#c8d7be"/><path d="M128.2 73.5L200.6 72.3L200.6 82.6L128.2 83.8Z" fill="#d3dec9"/><path d="M34.7 115.2L45.3 94L55.8 79L67.9 77.5L75.4 94L86 77.5L95 94L122.2 82L125.2 118.2L86 122.7L37.7 124.2Z" fill="#cf7566"/><path d="M-0.9 95.6L10.6 95.6L14.2 115.2L7.6 136.3L-0.9 136.3Z" fill="#cf7566"/><path d="M146.3 113.7L158.4 115.2L182.5 130.2L188.6 139.3L164.4 142.9L152.4 136.3Z" fill="#cf7566"/><path d="M116.2 136.3L146.3 139.3L146.3 143.8L116.2 142.3Z" fill="#d27d69"/><path d="M300.2 94L330.4 82L336.4 85L354.5 97.1L354.5 121.2L327.3 121.2Z" fill="#d27d69"/><ellipse cx="245.9" cy="88.0" rx="10.6" ry="3.6" fill="#b1cdae"/><ellipse cx="251.9" cy="90.4" rx="5.4" ry="2.4" fill="#d27d69"/><ellipse cx="60.4" cy="131.8" rx="10.6" ry="1.8" fill="#dd9d84"/></g>
<g filter="url(#b1_2)"><ellipse cx="70.9" cy="103.1" rx="16.6" ry="2.7" fill="#157c79" transform="rotate(5 70.9 103.1)"/><ellipse cx="95.0" cy="106.7" rx="13.6" ry="2.1" fill="#84b894" transform="rotate(8 95.0 106.7)"/><ellipse cx="70.9" cy="118.8" rx="30.2" ry="2.1" fill="#1d485e" transform="rotate(-2 70.9 118.8)"/><ellipse cx="107.1" cy="115.2" rx="12.1" ry="1.8" fill="#19636d" transform="rotate(10 107.1 115.2)"/><ellipse cx="64.9" cy="110.6" rx="12.1" ry="2.7" fill="#68145a"/><ellipse cx="95.0" cy="100.1" rx="12.1" ry="2.4" fill="#791860"/><ellipse cx="49.8" cy="91.0" rx="5.4" ry="7.5" fill="#881e62"/><ellipse cx="89.0" cy="86.5" rx="5.4" ry="6.6" fill="#972763"/><ellipse cx="40.8" cy="115.2" rx="3.6" ry="9.1" fill="#269480"/><ellipse cx="114.7" cy="97.1" rx="6.0" ry="9.1" fill="#791860"/><ellipse cx="83.0" cy="113.7" rx="9.1" ry="1.8" fill="#f4dfd5"/><ellipse cx="137.3" cy="68.4" rx="9.1" ry="2.4" fill="#68145a"/><ellipse cx="158.4" cy="66.9" rx="9.1" ry="2.1" fill="#791860"/><ellipse cx="176.5" cy="66.3" rx="7.5" ry="1.8" fill="#881e62"/><ellipse cx="128.2" cy="73.5" rx="4.2" ry="2.4" fill="#972763"/><ellipse cx="147.8" cy="64.5" rx="6.6" ry="1.5" fill="#881e62"/><ellipse cx="169.0" cy="70.5" rx="6.0" ry="1.5" fill="#972763"/><ellipse cx="185.6" cy="68.7" rx="4.2" ry="1.8" fill="#881e62"/><ellipse cx="3.0" cy="104.6" rx="3.0" ry="6.6" fill="#68145a"/><ellipse cx="9.1" cy="124.2" rx="3.0" ry="7.5" fill="#58a585"/><ellipse cx="4.6" cy="130.2" rx="2.4" ry="6.0" fill="#972763"/><ellipse cx="153.9" cy="124.2" rx="4.2" ry="8.4" fill="#791860"/><ellipse cx="167.4" cy="133.9" rx="9.1" ry="2.7" fill="#791860"/><ellipse cx="179.5" cy="136.3" rx="6.0" ry="1.8" fill="#f4dfd5"/><ellipse cx="137.3" cy="138.7" rx="12.1" ry="1.5" fill="#972763"/><ellipse cx="324.3" cy="97.1" rx="9.1" ry="2.7" fill="#68145a" transform="rotate(-25 324.3 97.1)"/><ellipse cx="342.4" cy="101.6" rx="9.1" ry="3.0" fill="#791860"/><ellipse cx="321.3" cy="106.7" rx="13.6" ry="2.4" fill="#1c2f4f" transform="rotate(25 321.3 106.7)"/><ellipse cx="339.4" cy="113.7" rx="12.1" ry="3.0" fill="#19636d" transform="rotate(15 339.4 113.7)"/><ellipse cx="327.3" cy="94.0" rx="7.5" ry="1.8" fill="#58a585" transform="rotate(-30 327.3 94.0)"/><ellipse cx="348.4" cy="109.1" rx="5.4" ry="2.4" fill="#551251"/><ellipse cx="336.4" cy="121.2" rx="12.1" ry="1.5" fill="#68145a"/><ellipse cx="256.4" cy="92.5" rx="5.4" ry="1.5" fill="#19636d" transform="rotate(25 256.4 92.5)"/><path d="M303.2 140.2L353 140.5" fill="none" stroke="#68145a" stroke-width="0.8" stroke-linecap="round" stroke-linejoin="round"/><ellipse cx="315.3" cy="58.5" rx="5.4" ry="1.5" fill="#791860"/><ellipse cx="339.4" cy="58.5" rx="3.0" ry="1.2" fill="#791860"/></g>
<g filter="url(#b1)"><path d="M56.2 84.6L62.4 84L68.6 84" fill="none" stroke="#fdf4f1" stroke-width="1.5" stroke-linecap="round" stroke-linejoin="round" opacity="0.4"/><path d="M117.6 116L126.7 115.4L135.9 116.1" fill="none" stroke="#fdf4f1" stroke-width="1.6" stroke-linecap="round" stroke-linejoin="round" opacity="0.4"/><path d="M50.5 84.8L55.3 85.9L60 85.2" fill="none" stroke="#fdf4f1" stroke-width="2.9" stroke-linecap="round" stroke-linejoin="round" opacity="0.4"/><path d="M107 88.7L112.5 89.9L118 89" fill="none" stroke="#fdf4f1" stroke-width="2.3" stroke-linecap="round" stroke-linejoin="round" opacity="0.4"/><path d="M114.2 83.9L122.1 82.9L129.9 83.9" fill="none" stroke="#fdf4f1" stroke-width="2.4" stroke-linecap="round" stroke-linejoin="round" opacity="0.4"/><path d="M77.6 84L88.1 83.5L98.6 84.1" fill="none" stroke="#fdf4f1" stroke-width="2.8" stroke-linecap="round" stroke-linejoin="round" opacity="0.4"/><path d="M116.8 105.8L126.9 105.5L136.9 105.8" fill="none" stroke="#fdf4f1" stroke-width="2.7" stroke-linecap="round" stroke-linejoin="round" opacity="0.4"/><path d="M88.9 99.4L93.2 98.2L97.5 99.7" fill="none" stroke="#fdf4f1" stroke-width="1.7" stroke-linecap="round" stroke-linejoin="round" opacity="0.4"/><path d="M39.2 108.2L44.4 107.7L49.7 108.1" fill="none" stroke="#fdf4f1" stroke-width="2.2" stroke-linecap="round" stroke-linejoin="round" opacity="0.4"/><path d="M124.8 88.8L131.1 88.2L137.4 89" fill="none" stroke="#fdf4f1" stroke-width="1.6" stroke-linecap="round" stroke-linejoin="round" opacity="0.4"/><path d="M67 113.6L72.6 112.7L78.2 114.2" fill="none" stroke="#fdf4f1" stroke-width="2.2" stroke-linecap="round" stroke-linejoin="round" opacity="0.4"/><path d="M40.5 90.3L49.7 89.5L58.8 89.7" fill="none" stroke="#fdf4f1" stroke-width="2.3" stroke-linecap="round" stroke-linejoin="round" opacity="0.4"/><path d="M51 100.7L54.3 102.2L57.7 101" fill="none" stroke="#fdf4f1" stroke-width="2.5" stroke-linecap="round" stroke-linejoin="round" opacity="0.4"/><path d="M101.1 123.2L104.3 124.2L107.4 123.5" fill="none" stroke="#fdf4f1" stroke-width="1.7" stroke-linecap="round" stroke-linejoin="round" opacity="0.4"/><path d="M71.9 122.4L79.9 121.3L87.9 122.1" fill="none" stroke="#fdf4f1" stroke-width="2.7" stroke-linecap="round" stroke-linejoin="round" opacity="0.4"/><path d="M75 86.1L81 84.5L87.1 85.9" fill="none" stroke="#fdf4f1" stroke-width="2.9" stroke-linecap="round" stroke-linejoin="round" opacity="0.4"/><path d="M39 87.6L48.3 86.2L57.6 87.2" fill="none" stroke="#fdf4f1" stroke-width="1.9" stroke-linecap="round" stroke-linejoin="round" opacity="0.4"/><path d="M123.4 99.1L128 97.8L132.7 98.6" fill="none" stroke="#fdf4f1" stroke-width="1.3" stroke-linecap="round" stroke-linejoin="round" opacity="0.4"/><path d="M95.9 86.7L99.2 88.1L102.6 86.5" fill="none" stroke="#fdf4f1" stroke-width="2.1" stroke-linecap="round" stroke-linejoin="round" opacity="0.4"/><path d="M46 103.8L55.2 104.3L64.4 104.9" fill="none" stroke="#fdf4f1" stroke-width="1.9" stroke-linecap="round" stroke-linejoin="round" opacity="0.4"/><path d="M56.8 98.5L60.1 99.5L63.4 98.3" fill="none" stroke="#fdf4f1" stroke-width="2.0" stroke-linecap="round" stroke-linejoin="round" opacity="0.4"/><path d="M109.8 102.4L113 101.5L116.3 102.2" fill="none" stroke="#fdf4f1" stroke-width="1.7" stroke-linecap="round" stroke-linejoin="round" opacity="0.4"/><path d="M55.8 119.1L60 119.5L64.1 119.6" fill="none" stroke="#fdf4f1" stroke-width="1.3" stroke-linecap="round" stroke-linejoin="round" opacity="0.4"/><path d="M124.2 98.1L134.4 99.2L144.6 98.8" fill="none" stroke="#fdf4f1" stroke-width="2.4" stroke-linecap="round" stroke-linejoin="round" opacity="0.4"/><path d="M79.5 84.2L84.2 85.7L88.9 84.6" fill="none" stroke="#fdf4f1" stroke-width="2.8" stroke-linecap="round" stroke-linejoin="round" opacity="0.4"/><path d="M65.3 109.6L74.7 110L84.1 110.3" fill="none" stroke="#fdf4f1" stroke-width="2.4" stroke-linecap="round" stroke-linejoin="round" opacity="0.4"/><path d="M93.9 110.9L99.1 109.9L104.2 111.4" fill="none" stroke="#fdf4f1" stroke-width="2.9" stroke-linecap="round" stroke-linejoin="round" opacity="0.4"/><path d="M122.4 123.3L130.7 122.6L139.1 124.1" fill="none" stroke="#fdf4f1" stroke-width="1.3" stroke-linecap="round" stroke-linejoin="round" opacity="0.4"/><path d="M122.2 110L125.7 110.3L129.1 110.1" fill="none" stroke="#fdf4f1" stroke-width="1.5" stroke-linecap="round" stroke-linejoin="round" opacity="0.4"/><path d="M102.2 121.7L106.9 120.5L111.7 122.2" fill="none" stroke="#fdf4f1" stroke-width="1.2" stroke-linecap="round" stroke-linejoin="round" opacity="0.4"/><path d="M113.9 85.2L123.4 85.8L132.8 86.1" fill="none" stroke="#fdf4f1" stroke-width="2.6" stroke-linecap="round" stroke-linejoin="round" opacity="0.4"/><path d="M114.1 89.1L122.5 90.3L130.8 89.9" fill="none" stroke="#fdf4f1" stroke-width="1.8" stroke-linecap="round" stroke-linejoin="round" opacity="0.4"/><path d="M77.4 103.7L80.6 103.7L83.9 103.8" fill="none" stroke="#fdf4f1" stroke-width="1.3" stroke-linecap="round" stroke-linejoin="round" opacity="0.4"/><path d="M112.8 107.4L116.9 107.6L121 107.6" fill="none" stroke="#fdf4f1" stroke-width="1.9" stroke-linecap="round" stroke-linejoin="round" opacity="0.4"/><path d="M35.9 117.7L45.6 117.4L55.2 117.8" fill="none" stroke="#fdf4f1" stroke-width="1.4" stroke-linecap="round" stroke-linejoin="round" opacity="0.4"/><path d="M105.9 94L110.7 93.1L115.6 94.5" fill="none" stroke="#fdf4f1" stroke-width="2.1" stroke-linecap="round" stroke-linejoin="round" opacity="0.4"/><path d="M45.3 107.9L55.4 108.9L65.5 107.8" fill="none" stroke="#fdf4f1" stroke-width="2.1" stroke-linecap="round" stroke-linejoin="round" opacity="0.4"/><path d="M104.9 83L114.9 83.8L125 82.5" fill="none" stroke="#fdf4f1" stroke-width="1.6" stroke-linecap="round" stroke-linejoin="round" opacity="0.4"/><path d="M73 115.9L77.4 114.7L81.7 115.6" fill="none" stroke="#fdf4f1" stroke-width="2.8" stroke-linecap="round" stroke-linejoin="round" opacity="0.4"/><path d="M79.5 95.2L86.8 93.9L94.2 95.6" fill="none" stroke="#fdf4f1" stroke-width="2.8" stroke-linecap="round" stroke-linejoin="round" opacity="0.4"/><path d="M127.5 69L134.4 68.1L141.3 68.6" fill="none" stroke="#fdf4f1" stroke-width="2.9" stroke-linecap="round" stroke-linejoin="round" opacity="0.4"/><path d="M171.4 68.6L176.2 69.4L181 68.5" fill="none" stroke="#fdf4f1" stroke-width="2.4" stroke-linecap="round" stroke-linejoin="round" opacity="0.4"/><path d="M128.3 64.2L136.7 64.9L145.1 63.7" fill="none" stroke="#fdf4f1" stroke-width="1.8" stroke-linecap="round" stroke-linejoin="round" opacity="0.4"/><path d="M164.2 63.5L170.5 63.7L176.8 63" fill="none" stroke="#fdf4f1" stroke-width="2.4" stroke-linecap="round" stroke-linejoin="round" opacity="0.4"/><path d="M128.6 65.4L132.1 65.3L135.6 65.8" fill="none" stroke="#fdf4f1" stroke-width="1.6" stroke-linecap="round" stroke-linejoin="round" opacity="0.4"/><path d="M189.3 66.4L196 65.4L202.6 66.7" fill="none" stroke="#fdf4f1" stroke-width="2.8" stroke-linecap="round" stroke-linejoin="round" opacity="0.4"/><path d="M161.2 68.3L165.3 68.6L169.4 68.7" fill="none" stroke="#fdf4f1" stroke-width="1.4" stroke-linecap="round" stroke-linejoin="round" opacity="0.4"/><path d="M133.6 66.5L137.9 65.3L142.2 66.5" fill="none" stroke="#fdf4f1" stroke-width="2.6" stroke-linecap="round" stroke-linejoin="round" opacity="0.4"/><path d="M177.3 62.9L182 61.9L186.6 63.2" fill="none" stroke="#fdf4f1" stroke-width="1.3" stroke-linecap="round" stroke-linejoin="round" opacity="0.4"/><path d="M156.8 62.9L162.7 62.8L168.6 63" fill="none" stroke="#fdf4f1" stroke-width="2.4" stroke-linecap="round" stroke-linejoin="round" opacity="0.4"/><path d="M153.9 66.4L160.5 65.6L167.1 66.3" fill="none" stroke="#fdf4f1" stroke-width="1.4" stroke-linecap="round" stroke-linejoin="round" opacity="0.4"/><path d="M180.6 71.4L184 71.7L187.4 71.6" fill="none" stroke="#fdf4f1" stroke-width="1.5" stroke-linecap="round" stroke-linejoin="round" opacity="0.4"/><path d="M121.3 69L130 69.1L138.7 68.7" fill="none" stroke="#fdf4f1" stroke-width="2.0" stroke-linecap="round" stroke-linejoin="round" opacity="0.4"/><path d="M185.7 64.6L190.6 64.6L195.4 64.8" fill="none" stroke="#fdf4f1" stroke-width="1.5" stroke-linecap="round" stroke-linejoin="round" opacity="0.4"/><path d="M335.6 116.6L339.7 116.9L343.8 116.3" fill="none" stroke="#fdf4f1" stroke-width="3.0" stroke-linecap="round" stroke-linejoin="round" opacity="0.4"/><path d="M304.6 113.8L308.5 114.7L312.4 114" fill="none" stroke="#fdf4f1" stroke-width="2.5" stroke-linecap="round" stroke-linejoin="round" opacity="0.4"/><path d="M322.1 117.4L331 118.8L339.9 117.5" fill="none" stroke="#fdf4f1" stroke-width="1.4" stroke-linecap="round" stroke-linejoin="round" opacity="0.4"/><path d="M337 103.1L341.8 103.6L346.6 102.6" fill="none" stroke="#fdf4f1" stroke-width="2.9" stroke-linecap="round" stroke-linejoin="round" opacity="0.4"/><path d="M342.2 93.4L347.1 93L352.1 93.4" fill="none" stroke="#fdf4f1" stroke-width="1.7" stroke-linecap="round" stroke-linejoin="round" opacity="0.4"/><path d="M344.7 119.4L349.6 118L354.5 118.9" fill="none" stroke="#fdf4f1" stroke-width="2.8" stroke-linecap="round" stroke-linejoin="round" opacity="0.4"/><path d="M333.3 115.2L341.2 114.8L349.1 115.9" fill="none" stroke="#fdf4f1" stroke-width="3.0" stroke-linecap="round" stroke-linejoin="round" opacity="0.4"/><path d="M337.1 119.4L340.7 118.2L344.3 119.1" fill="none" stroke="#fdf4f1" stroke-width="2.1" stroke-linecap="round" stroke-linejoin="round" opacity="0.4"/><path d="M324 110.8L332.8 112.3L341.7 110.8" fill="none" stroke="#fdf4f1" stroke-width="1.4" stroke-linecap="round" stroke-linejoin="round" opacity="0.4"/><path d="M338.3 106.1L342.7 106.4L347.2 105.8" fill="none" stroke="#fdf4f1" stroke-width="2.3" stroke-linecap="round" stroke-linejoin="round" opacity="0.4"/><path d="M332.4 101.3L340.2 102.3L348 101.2" fill="none" stroke="#fdf4f1" stroke-width="1.9" stroke-linecap="round" stroke-linejoin="round" opacity="0.4"/><path d="M312.5 94.3L319 93.8L325.4 94.9" fill="none" stroke="#fdf4f1" stroke-width="2.0" stroke-linecap="round" stroke-linejoin="round" opacity="0.4"/><path d="M318.6 90L324.3 90.7L330 89.9" fill="none" stroke="#fdf4f1" stroke-width="1.8" stroke-linecap="round" stroke-linejoin="round" opacity="0.4"/><path d="M301.9 121.6L309.1 121.9L316.4 121.7" fill="none" stroke="#fdf4f1" stroke-width="2.7" stroke-linecap="round" stroke-linejoin="round" opacity="0.4"/><path d="M166.2 130.8L172.5 130.7L178.7 131.4" fill="none" stroke="#fdf4f1" stroke-width="2.8" stroke-linecap="round" stroke-linejoin="round" opacity="0.4"/><path d="M183 126.5L186.8 125.4L190.7 126.5" fill="none" stroke="#fdf4f1" stroke-width="1.4" stroke-linecap="round" stroke-linejoin="round" opacity="0.4"/><path d="M156 131.5L162 129.9L168 130.9" fill="none" stroke="#fdf4f1" stroke-width="2.6" stroke-linecap="round" stroke-linejoin="round" opacity="0.4"/><path d="M155.2 129.9L161.5 130.5L167.8 130.6" fill="none" stroke="#fdf4f1" stroke-width="2.6" stroke-linecap="round" stroke-linejoin="round" opacity="0.4"/><path d="M170.5 122.9L174.4 123.2L178.3 122.9" fill="none" stroke="#fdf4f1" stroke-width="1.6" stroke-linecap="round" stroke-linejoin="round" opacity="0.4"/><path d="M167.9 125.6L172.3 126L176.7 125.9" fill="none" stroke="#fdf4f1" stroke-width="1.6" stroke-linecap="round" stroke-linejoin="round" opacity="0.4"/><path d="M174.9 136.9L178.7 138L182.5 136.7" fill="none" stroke="#fdf4f1" stroke-width="1.4" stroke-linecap="round" stroke-linejoin="round" opacity="0.4"/><path d="M176.7 125.9L182.7 125L188.7 126.5" fill="none" stroke="#fdf4f1" stroke-width="1.8" stroke-linecap="round" stroke-linejoin="round" opacity="0.4"/></g>
<use href="#land" fill="#000"/><use href="#sea_inl" fill="#fef6f4"/><use href="#sea_hud" fill="#fef6f4"/><use href="#sea_med" fill="#fef6f4"/><use href="#chan" stroke="#fef6f4"/>
<use href="#ct"/>
</g>
<text x="9" y="178.3" font-size="29.3" font-weight="bold" xml:space="preserve" style="white-space:pre">% <tspan font-weight="normal" font-size="26">Δ</tspan> NFix (1)</text>
<rect x="0" y="0" width="353" height="201" fill="none" stroke="#000" stroke-width="1" shape-rendering="crispEdges"/>
</g>
<g transform="translate(602.5 25.5)">
<g clip-path="url(#pc)">
<rect x="0" y="0" width="353" height="201" fill="#f6ebe4"/>
<g filter="url(#b4)"><path d="M125.2 66.9L254.9 65.7L267 85.6L125.2 86.8Z" fill="#489f82"/><path d="M128.2 95.6L268.5 94.7L268.5 106.7L137.3 107.3Z" fill="#84b894"/><path d="M143.3 107.3L285.1 106.1L286.6 140.5L176.5 140.5L152.4 136.3Z" fill="#60a886"/><ellipse cx="236.8" cy="119.7" rx="31.7" ry="7.2" fill="#bb4d60" transform="rotate(12 236.8 119.7)"/><path d="M137.3 30.7L236.8 30.7L248.9 65.4L125.2 66.3Z" fill="#f7e5dd"/><path d="M137.3 48.8L176.5 36.7L182.5 54.8L146.3 62.4Z" fill="#c8d7be"/><path d="M31.7 115.2L43.8 94L58.9 80.5L86 77.5L95 94L122.2 82L128.2 115.2L40.8 115.8Z" fill="#db967f"/><path d="M1.5 116.7L122.2 115.8L122.2 136.9L1.5 136.9Z" fill="#319881"/><path d="M0 139.3L354.5 139.9L354.5 155.9L0 154.4Z" fill="#e5b6a0"/><path d="M0 155.9L354.5 155.9L354.5 202.7L0 202.7Z" fill="#f8e8e1"/><ellipse cx="86.0" cy="163.4" rx="36.2" ry="3.0" fill="#e9c1ac"/><ellipse cx="267.0" cy="163.4" rx="30.2" ry="3.0" fill="#e9c1ac"/><ellipse cx="182.5" cy="175.5" rx="18.1" ry="3.6" fill="#e9c1ac"/><path d="M297.2 12.6L354.5 0.5L354.5 59.4L327.3 58.5L279.1 57.2L285.1 30.7Z" fill="#e3af97"/><path d="M261 3.6L294.1 3.6L285.1 39.8L261 39.8Z" fill="#6dae8b"/><path d="M277.6 58.5L327.3 59.4L342.4 66.9L354.5 85L297.2 88L279.1 79Z" fill="#84b894"/><ellipse cx="218.7" cy="54.8" rx="12.1" ry="7.5" fill="#e9c1ac"/><ellipse cx="264.0" cy="76.6" rx="7.5" ry="4.8" fill="#84b894"/><ellipse cx="277.6" cy="85.0" rx="10.6" ry="4.2" fill="#84b894"/><path d="M294.1 86.5L354.5 86.5L354.5 107.6L315.3 106.7Z" fill="#efd1c0"/><path d="M315.3 108.5L354.5 108.5L354.5 136.9L309.2 136.9Z" fill="#50a283"/><ellipse cx="306.2" cy="133.9" rx="9.1" ry="7.2" fill="#f4dfd5"/><path d="M-1.5 94L14.2 94L17.2 121.2L-1.5 121.2Z" fill="#efd1c0"/><path d="M-1.5 122.7L16.6 122.7L22.6 136.9L-1.5 136.9Z" fill="#84b894"/><path d="M-1.5 -1L54.3 -1L54.3 12.6L13.6 24.7L-1.5 42.8Z" fill="#db967f"/></g>
<g filter="url(#b1_5)"><ellipse cx="247.4" cy="122.7" rx="10.6" ry="1.8" fill="#68145a" transform="rotate(14 247.4 122.7)"/><ellipse cx="218.7" cy="115.2" rx="12.1" ry="1.8" fill="#a53364" transform="rotate(8 218.7 115.2)"/><ellipse cx="251.9" cy="126.6" rx="2.1" ry="1.2" fill="#faece6"/><path d="M128.2 91.6L206.7 90.4L264 91.6" fill="none" stroke="#fcf2ef" stroke-width="1.8" stroke-linecap="round" stroke-linejoin="round"/><path d="M152.4 101.3L267 100.7" fill="none" stroke="#fbf0ec" stroke-width="1.2" stroke-linecap="round" stroke-linejoin="round"/><ellipse cx="176.5" cy="76.0" rx="36.2" ry="3.6" fill="#188a7e"/><ellipse cx="324.3" cy="76.0" rx="18.1" ry="3.0" fill="#157c79"/><ellipse cx="336.4" cy="119.7" rx="16.6" ry="4.2" fill="#157c79"/><ellipse cx="67.9" cy="127.2" rx="33.2" ry="3.6" fill="#188a7e"/><ellipse cx="282.1" cy="76.0" rx="4.2" ry="1.5" fill="#b14062"/><path d="M144.8 113.7L150 133.3" fill="none" stroke="#d78d77" stroke-width="1.2" stroke-linecap="round" stroke-linejoin="round"/></g>
<g filter="url(#b1)"><path d="M219.9 156.1L241 158L262.1 157.3" fill="none" stroke="#fcf2ef" stroke-width="2.9" stroke-linecap="round" stroke-linejoin="round" opacity="0.45"/><path d="M10.2 109.2L34.2 109.1L58.1 111.5" fill="none" stroke="#fcf2ef" stroke-width="2.4" stroke-linecap="round" stroke-linejoin="round" opacity="0.45"/><path d="M165.6 71.9L181.9 70.1L198.2 70" fill="none" stroke="#fcf2ef" stroke-width="2.2" stroke-linecap="round" stroke-linejoin="round" opacity="0.45"/><path d="M98.7 185.8L119.2 185.4L139.8 187.2" fill="none" stroke="#fcf2ef" stroke-width="1.5" stroke-linecap="round" stroke-linejoin="round" opacity="0.45"/><path d="M218 51.5L224 50.5L230 51.1" fill="none" stroke="#fcf2ef" stroke-width="2.8" stroke-linecap="round" stroke-linejoin="round" opacity="0.45"/><path d="M346.8 178.3L358.3 178.9L369.8 178.4" fill="none" stroke="#fcf2ef" stroke-width="2.9" stroke-linecap="round" stroke-linejoin="round" opacity="0.45"/><path d="M72.3 190L91.4 190.3L110.5 191.8" fill="none" stroke="#fcf2ef" stroke-width="2.9" stroke-linecap="round" stroke-linejoin="round" opacity="0.45"/><path d="M127.5 58.2L136.3 58.3L145 57.8" fill="none" stroke="#fcf2ef" stroke-width="1.3" stroke-linecap="round" stroke-linejoin="round" opacity="0.45"/><path d="M1.2 145.2L13.6 145.7L26 146.2" fill="none" stroke="#fcf2ef" stroke-width="1.8" stroke-linecap="round" stroke-linejoin="round" opacity="0.45"/><path d="M111.5 111.8L130.9 111.5L150.3 114" fill="none" stroke="#fcf2ef" stroke-width="1.3" stroke-linecap="round" stroke-linejoin="round" opacity="0.45"/><path d="M264.7 173.6L271 173.8L277.4 173.4" fill="none" stroke="#fcf2ef" stroke-width="2.6" stroke-linecap="round" stroke-linejoin="round" opacity="0.45"/><path d="M3.2 37.9L12.6 38.4L22.1 37.3" fill="none" stroke="#fcf2ef" stroke-width="2.9" stroke-linecap="round" stroke-linejoin="round" opacity="0.45"/><path d="M328.2 190.1L340.7 191L353.3 190.2" fill="none" stroke="#fcf2ef" stroke-width="1.8" stroke-linecap="round" stroke-linejoin="round" opacity="0.45"/><path d="M38.1 157.2L59.3 157.4L80.4 154.9" fill="none" stroke="#fcf2ef" stroke-width="2.7" stroke-linecap="round" stroke-linejoin="round" opacity="0.45"/><path d="M32.2 87.9L49.8 88.9L67.4 87.2" fill="none" stroke="#fcf2ef" stroke-width="2.9" stroke-linecap="round" stroke-linejoin="round" opacity="0.45"/><path d="M192.4 83.1L204.5 81.5L216.5 81.9" fill="none" stroke="#fcf2ef" stroke-width="1.5" stroke-linecap="round" stroke-linejoin="round" opacity="0.45"/><path d="M243.3 199.4L252.3 200.1L261.4 200.5" fill="none" stroke="#fcf2ef" stroke-width="1.3" stroke-linecap="round" stroke-linejoin="round" opacity="0.45"/><path d="M143.3 70.3L160.6 70L177.8 70.2" fill="none" stroke="#fcf2ef" stroke-width="2.7" stroke-linecap="round" stroke-linejoin="round" opacity="0.45"/><path d="M19.7 185.7L26.3 184.9L32.9 186.3" fill="none" stroke="#fcf2ef" stroke-width="2.1" stroke-linecap="round" stroke-linejoin="round" opacity="0.45"/><path d="M258.3 191.5L276.3 190.4L294.2 189.8" fill="none" stroke="#fcf2ef" stroke-width="2.6" stroke-linecap="round" stroke-linejoin="round" opacity="0.45"/><path d="M52.7 173.6L64.3 175.4L75.9 175" fill="none" stroke="#fcf2ef" stroke-width="2.0" stroke-linecap="round" stroke-linejoin="round" opacity="0.45"/><path d="M344.5 107.1L359.8 106.4L375.1 107" fill="none" stroke="#fcf2ef" stroke-width="2.5" stroke-linecap="round" stroke-linejoin="round" opacity="0.45"/><path d="M142.5 54.9L155.7 56L168.9 56.4" fill="none" stroke="#fcf2ef" stroke-width="3.0" stroke-linecap="round" stroke-linejoin="round" opacity="0.45"/><path d="M176.3 87.5L184 88.9L191.6 88.1" fill="none" stroke="#fcf2ef" stroke-width="1.7" stroke-linecap="round" stroke-linejoin="round" opacity="0.45"/><path d="M127.5 163.6L148.3 164.8L169 164.4" fill="none" stroke="#fcf2ef" stroke-width="2.5" stroke-linecap="round" stroke-linejoin="round" opacity="0.45"/><path d="M128.3 149.8L139.6 150.7L151 150.5" fill="none" stroke="#fcf2ef" stroke-width="2.1" stroke-linecap="round" stroke-linejoin="round" opacity="0.45"/><path d="M103.7 190.7L122.1 189.8L140.4 188.6" fill="none" stroke="#fcf2ef" stroke-width="2.2" stroke-linecap="round" stroke-linejoin="round" opacity="0.45"/><path d="M88.5 144.2L103.3 145.3L118.1 144.7" fill="none" stroke="#fcf2ef" stroke-width="2.7" stroke-linecap="round" stroke-linejoin="round" opacity="0.45"/><path d="M122.8 139.5L142.8 140.2L162.8 138.8" fill="none" stroke="#fcf2ef" stroke-width="2.7" stroke-linecap="round" stroke-linejoin="round" opacity="0.45"/><path d="M307.1 147L331.6 147.2L356.2 147.1" fill="none" stroke="#fcf2ef" stroke-width="2.9" stroke-linecap="round" stroke-linejoin="round" opacity="0.45"/><path d="M58.7 172.2L82.5 173.4L106.3 173.3" fill="none" stroke="#fcf2ef" stroke-width="2.1" stroke-linecap="round" stroke-linejoin="round" opacity="0.45"/><path d="M257.8 59.2L278.6 59.4L299.5 60" fill="none" stroke="#fcf2ef" stroke-width="2.2" stroke-linecap="round" stroke-linejoin="round" opacity="0.45"/><path d="M220.2 161.7L238.3 159.7L256.4 159.6" fill="none" stroke="#fcf2ef" stroke-width="2.5" stroke-linecap="round" stroke-linejoin="round" opacity="0.45"/><path d="M155.7 140.5L165.9 139.3L176 140.8" fill="none" stroke="#fcf2ef" stroke-width="2.4" stroke-linecap="round" stroke-linejoin="round" opacity="0.45"/><path d="M166.5 68.5L173.5 67.4L180.5 68.2" fill="none" stroke="#fcf2ef" stroke-width="1.4" stroke-linecap="round" stroke-linejoin="round" opacity="0.45"/><path d="M68.3 36.1L83.1 36.5L97.9 36.5" fill="none" stroke="#fcf2ef" stroke-width="1.9" stroke-linecap="round" stroke-linejoin="round" opacity="0.45"/><path d="M84 183.5L90 183.1L96 183.2" fill="none" stroke="#fcf2ef" stroke-width="1.9" stroke-linecap="round" stroke-linejoin="round" opacity="0.45"/><path d="M40.6 171.3L53.7 170.3L66.8 171.7" fill="none" stroke="#fcf2ef" stroke-width="1.3" stroke-linecap="round" stroke-linejoin="round" opacity="0.45"/><path d="M192.5 87.7L209.5 88.1L226.5 89" fill="none" stroke="#fcf2ef" stroke-width="2.9" stroke-linecap="round" stroke-linejoin="round" opacity="0.45"/><path d="M287 139.2L300 139.5L313 139.5" fill="none" stroke="#fcf2ef" stroke-width="1.5" stroke-linecap="round" stroke-linejoin="round" opacity="0.45"/><path d="M337.9 194.6L355.5 193.9L373 196.2" fill="none" stroke="#fcf2ef" stroke-width="1.8" stroke-linecap="round" stroke-linejoin="round" opacity="0.45"/><path d="M38.1 126.2L55.8 127.6L73.5 126.7" fill="none" stroke="#fcf2ef" stroke-width="1.5" stroke-linecap="round" stroke-linejoin="round" opacity="0.45"/><path d="M132.7 103.4L143 103.6L153.3 104.6" fill="none" stroke="#fcf2ef" stroke-width="1.7" stroke-linecap="round" stroke-linejoin="round" opacity="0.45"/><path d="M339.3 185.3L356.6 186.3L373.9 187.3" fill="none" stroke="#fcf2ef" stroke-width="1.7" stroke-linecap="round" stroke-linejoin="round" opacity="0.45"/><path d="M146.7 84.3L171.4 83.6L196.1 83" fill="none" stroke="#fcf2ef" stroke-width="2.1" stroke-linecap="round" stroke-linejoin="round" opacity="0.45"/><path d="M43 135.7L57.5 137.2L71.9 136.7" fill="none" stroke="#fcf2ef" stroke-width="1.7" stroke-linecap="round" stroke-linejoin="round" opacity="0.45"/><path d="M4.7 120.5L15.9 120.2L27.1 121.3" fill="none" stroke="#fcf2ef" stroke-width="2.9" stroke-linecap="round" stroke-linejoin="round" opacity="0.45"/><path d="M94.5 56.3L119.3 56.6L144.1 57" fill="none" stroke="#fcf2ef" stroke-width="1.7" stroke-linecap="round" stroke-linejoin="round" opacity="0.45"/><path d="M227.6 132.7L247.8 132.7L267.9 133.9" fill="none" stroke="#fcf2ef" stroke-width="1.4" stroke-linecap="round" stroke-linejoin="round" opacity="0.45"/><path d="M188.3 87.1L200 86.7L211.6 87" fill="none" stroke="#fcf2ef" stroke-width="2.2" stroke-linecap="round" stroke-linejoin="round" opacity="0.45"/><path d="M263 130.4L269.7 131.7L276.4 130.4" fill="none" stroke="#fcf2ef" stroke-width="1.7" stroke-linecap="round" stroke-linejoin="round" opacity="0.45"/><path d="M313.4 122.8L319.7 122.9L326 122.6" fill="none" stroke="#fcf2ef" stroke-width="2.6" stroke-linecap="round" stroke-linejoin="round" opacity="0.45"/><path d="M250 137.5L265.1 136.9L280.3 137.1" fill="none" stroke="#fcf2ef" stroke-width="2.8" stroke-linecap="round" stroke-linejoin="round" opacity="0.45"/><path d="M300.7 63.4L312.4 63.8L324 62.2" fill="none" stroke="#fcf2ef" stroke-width="2.7" stroke-linecap="round" stroke-linejoin="round" opacity="0.45"/><path d="M245.2 103.6L256.6 103.1L268.1 104.7" fill="none" stroke="#fcf2ef" stroke-width="2.6" stroke-linecap="round" stroke-linejoin="round" opacity="0.45"/><path d="M168.9 123.3L184.3 123L199.8 122.1" fill="none" stroke="#fcf2ef" stroke-width="1.8" stroke-linecap="round" stroke-linejoin="round" opacity="0.45"/><path d="M286.6 41.6L296.9 42.5L307.3 42.4" fill="none" stroke="#fcf2ef" stroke-width="2.7" stroke-linecap="round" stroke-linejoin="round" opacity="0.45"/><path d="M9 152.8L33.6 152.1L58.2 154" fill="none" stroke="#fcf2ef" stroke-width="3.0" stroke-linecap="round" stroke-linejoin="round" opacity="0.45"/><path d="M297.2 67.3L315.5 66.6L333.8 68.2" fill="none" stroke="#fcf2ef" stroke-width="2.9" stroke-linecap="round" stroke-linejoin="round" opacity="0.45"/><path d="M103.2 186.1L112.1 185L120.9 185.9" fill="none" stroke="#fcf2ef" stroke-width="2.3" stroke-linecap="round" stroke-linejoin="round" opacity="0.45"/><path d="M219.7 37.4L227.8 35.7L235.8 36.6" fill="none" stroke="#fcf2ef" stroke-width="1.9" stroke-linecap="round" stroke-linejoin="round" opacity="0.45"/><path d="M203.1 156.2L225.8 155.5L248.4 155.8" fill="none" stroke="#fcf2ef" stroke-width="1.4" stroke-linecap="round" stroke-linejoin="round" opacity="0.45"/><path d="M211.9 113.2L235.7 112.5L259.5 110.7" fill="none" stroke="#fcf2ef" stroke-width="1.9" stroke-linecap="round" stroke-linejoin="round" opacity="0.45"/><path d="M53.3 137.3L69 137.8L84.6 137.5" fill="none" stroke="#fcf2ef" stroke-width="2.8" stroke-linecap="round" stroke-linejoin="round" opacity="0.45"/><path d="M92.9 123.8L103.8 122.7L114.6 123.8" fill="none" stroke="#fcf2ef" stroke-width="2.6" stroke-linecap="round" stroke-linejoin="round" opacity="0.45"/><path d="M82.8 93.1L102.7 94.1L122.7 94.1" fill="none" stroke="#fcf2ef" stroke-width="1.5" stroke-linecap="round" stroke-linejoin="round" opacity="0.45"/><path d="M30.1 143.6L37.8 142.9L45.6 143.7" fill="none" stroke="#fcf2ef" stroke-width="1.4" stroke-linecap="round" stroke-linejoin="round" opacity="0.45"/><path d="M309.6 111.7L321.7 111.7L333.8 110.3" fill="none" stroke="#fcf2ef" stroke-width="2.6" stroke-linecap="round" stroke-linejoin="round" opacity="0.45"/><path d="M18.9 55.6L43 53.7L67.1 54" fill="none" stroke="#fcf2ef" stroke-width="2.4" stroke-linecap="round" stroke-linejoin="round" opacity="0.45"/><path d="M343.4 143.1L365 142.9L386.5 143.7" fill="none" stroke="#fcf2ef" stroke-width="1.5" stroke-linecap="round" stroke-linejoin="round" opacity="0.45"/><path d="M83 86.7L100.6 85.3L118.3 86.2" fill="none" stroke="#fcf2ef" stroke-width="1.8" stroke-linecap="round" stroke-linejoin="round" opacity="0.45"/><path d="M293.4 140.1L314.7 141.1L335.9 141.9" fill="none" stroke="#fcf2ef" stroke-width="2.0" stroke-linecap="round" stroke-linejoin="round" opacity="0.45"/><path d="M209.2 127.5L229.3 125.1L249.3 125.5" fill="none" stroke="#fcf2ef" stroke-width="1.9" stroke-linecap="round" stroke-linejoin="round" opacity="0.45"/><path d="M71.4 36.7L94.3 35.9L117.2 38.1" fill="none" stroke="#fcf2ef" stroke-width="2.1" stroke-linecap="round" stroke-linejoin="round" opacity="0.45"/><path d="M166 181.3L183.7 180L201.5 181.1" fill="none" stroke="#fcf2ef" stroke-width="2.0" stroke-linecap="round" stroke-linejoin="round" opacity="0.45"/><path d="M54.6 57L67.7 56.6L80.8 58.2" fill="none" stroke="#fcf2ef" stroke-width="1.9" stroke-linecap="round" stroke-linejoin="round" opacity="0.45"/><path d="M89.7 77.2L98.8 76.8L107.8 76.6" fill="none" stroke="#fcf2ef" stroke-width="1.7" stroke-linecap="round" stroke-linejoin="round" opacity="0.45"/><path d="M11.3 187.2L24.3 188L37.4 187.8" fill="none" stroke="#fcf2ef" stroke-width="2.9" stroke-linecap="round" stroke-linejoin="round" opacity="0.45"/><path d="M166.5 190.7L174.8 191L183 190.3" fill="none" stroke="#fcf2ef" stroke-width="2.4" stroke-linecap="round" stroke-linejoin="round" opacity="0.45"/><path d="M257.4 57.7L267.3 56.2L277.1 57.1" fill="none" stroke="#fcf2ef" stroke-width="1.2" stroke-linecap="round" stroke-linejoin="round" opacity="0.45"/></g>
<g><path d="M53 -1L262 -1L262 16L240 22L190 24.5L178 26L60 26L53 14Z" fill="#ffffff"/></g>
<use href="#land" fill="#000"/><use href="#sea_inl" fill="#fff"/><use href="#sea_hud" fill="#84b894"/><use href="#sea_med" fill="#7bb490"/><use href="#chan" stroke="#fff"/>
<use href="#ct"/>
</g>
<text x="9" y="178.3" font-size="29.3" font-weight="bold" xml:space="preserve" style="white-space:pre">% <tspan font-weight="normal" font-size="26">Δ</tspan> zoo (0)</text>
<rect x="0" y="0" width="353" height="201" fill="none" stroke="#000" stroke-width="1" shape-rendering="crispEdges"/>
</g>
<g transform="translate(602.5 232.5)">
<g clip-path="url(#pc)">
<rect x="0" y="0" width="353" height="201" fill="#fbeee9"/>
<g filter="url(#b4)"><path d="M31.7 115.2L43.8 94L58.9 80.5L86 77.5L95 94L122.2 82L128.2 113.7L40.8 114.6Z" fill="#e6b9a4"/><path d="M25.7 115.2L122.2 114.6L122.2 136.3L25.7 136.3Z" fill="#9bc29e"/><ellipse cx="72.4" cy="122.7" rx="37.7" ry="4.8" fill="#157c79" transform="rotate(-2 72.4 122.7)"/><path d="M0 139.3L354.5 139.9L354.5 157.4L0 155.9Z" fill="#edcebc"/><ellipse cx="152.4" cy="168.9" rx="13.6" ry="4.2" fill="#6dae8b"/><ellipse cx="191.6" cy="159.8" rx="16.6" ry="1.5" fill="#84b894"/><ellipse cx="218.7" cy="73.5" rx="21.1" ry="5.4" fill="#b1cdae"/><ellipse cx="137.3" cy="38.2" rx="7.5" ry="7.5" fill="#c8d7be"/><path d="M264 69.9L333.4 68.4L336.4 85L297.2 91L267 82Z" fill="#84b894"/><ellipse cx="292.6" cy="77.5" rx="18.1" ry="4.2" fill="#176e74" transform="rotate(8 292.6 77.5)"/><path d="M292.6 90.4L309.2 100.1L320.7 112.8" fill="none" stroke="#157c79" stroke-width="6.0" stroke-linecap="round" stroke-linejoin="round"/><path d="M315.3 110.6L354.5 110.6L354.5 122.7L315.3 122.7Z" fill="#188a7e"/><path d="M309.2 122.7L354.5 122.7L354.5 137.8L309.2 137.8Z" fill="#c8d7be"/><ellipse cx="339.4" cy="104.6" rx="16.6" ry="2.1" fill="#c35a60"/><path d="M-1.5 94L14.2 94L17.2 115.2L-1.5 115.2Z" fill="#e9c1ac"/><ellipse cx="254.9" cy="124.2" rx="12.1" ry="3.6" fill="#c8d7be"/></g>
<g filter="url(#b1_5)"><ellipse cx="70.9" cy="122.7" rx="25.6" ry="2.1" fill="#1b5566" transform="rotate(-2 70.9 122.7)"/><ellipse cx="289.6" cy="76.6" rx="9.1" ry="2.1" fill="#1d485e" transform="rotate(8 289.6 76.6)"/><ellipse cx="336.4" cy="115.8" rx="15.1" ry="2.4" fill="#1b5566"/><path d="M297.2 92.5L310.7 100.7L318.9 110.6" fill="none" stroke="#1b5566" stroke-width="2.1" stroke-linecap="round" stroke-linejoin="round"/><ellipse cx="346.9" cy="104.9" rx="6.0" ry="1.2" fill="#b14062"/></g>
<g filter="url(#b1)"><path d="M280 169.7L295.3 169.3L310.5 167.9" fill="none" stroke="#fcf2ef" stroke-width="1.7" stroke-linecap="round" stroke-linejoin="round" opacity="0.4"/><path d="M166 159.2L179.1 159.7L192.2 158.4" fill="none" stroke="#fcf2ef" stroke-width="2.6" stroke-linecap="round" stroke-linejoin="round" opacity="0.4"/><path d="M257.6 100.4L273.9 99.9L290.1 99.2" fill="none" stroke="#fcf2ef" stroke-width="2.4" stroke-linecap="round" stroke-linejoin="round" opacity="0.4"/><path d="M284.2 75.1L305.5 75.5L326.7 76.9" fill="none" stroke="#fcf2ef" stroke-width="2.4" stroke-linecap="round" stroke-linejoin="round" opacity="0.4"/><path d="M32.9 166L54.2 164.1L75.5 164" fill="none" stroke="#fcf2ef" stroke-width="2.0" stroke-linecap="round" stroke-linejoin="round" opacity="0.4"/><path d="M224.1 79.5L248.2 79.1L272.3 77.8" fill="none" stroke="#fcf2ef" stroke-width="2.3" stroke-linecap="round" stroke-linejoin="round" opacity="0.4"/><path d="M127.2 188.6L150.5 189.6L173.8 189.4" fill="none" stroke="#fcf2ef" stroke-width="2.1" stroke-linecap="round" stroke-linejoin="round" opacity="0.4"/><path d="M284.3 196L290.9 195.5L297.4 196.1" fill="none" stroke="#fcf2ef" stroke-width="1.9" stroke-linecap="round" stroke-linejoin="round" opacity="0.4"/><path d="M208 45.2L230.7 44.7L253.4 43.2" fill="none" stroke="#fcf2ef" stroke-width="2.1" stroke-linecap="round" stroke-linejoin="round" opacity="0.4"/><path d="M110.2 63.4L125.4 63.9L140.6 62.3" fill="none" stroke="#fcf2ef" stroke-width="1.4" stroke-linecap="round" stroke-linejoin="round" opacity="0.4"/><path d="M246.5 32.1L267.3 32.9L288 31.3" fill="none" stroke="#fcf2ef" stroke-width="1.2" stroke-linecap="round" stroke-linejoin="round" opacity="0.4"/><path d="M219 82L232.1 83L245.3 80.9" fill="none" stroke="#fcf2ef" stroke-width="1.9" stroke-linecap="round" stroke-linejoin="round" opacity="0.4"/><path d="M19 101.9L39.2 102.3L59.4 104.2" fill="none" stroke="#fcf2ef" stroke-width="1.9" stroke-linecap="round" stroke-linejoin="round" opacity="0.4"/><path d="M345.7 181.7L364.4 182.6L383.1 181.4" fill="none" stroke="#fcf2ef" stroke-width="2.8" stroke-linecap="round" stroke-linejoin="round" opacity="0.4"/><path d="M281 117.8L296 116.4L310.9 117.5" fill="none" stroke="#fcf2ef" stroke-width="2.5" stroke-linecap="round" stroke-linejoin="round" opacity="0.4"/><path d="M263.5 75.2L278.8 73.2L294.1 74" fill="none" stroke="#fcf2ef" stroke-width="2.6" stroke-linecap="round" stroke-linejoin="round" opacity="0.4"/><path d="M43.6 130.2L56.5 131.4L69.3 130.1" fill="none" stroke="#fcf2ef" stroke-width="1.7" stroke-linecap="round" stroke-linejoin="round" opacity="0.4"/><path d="M89.9 99.8L112.6 99.1L135.3 98.5" fill="none" stroke="#fcf2ef" stroke-width="2.3" stroke-linecap="round" stroke-linejoin="round" opacity="0.4"/><path d="M168.9 54.2L182.1 54.1L195.3 55.1" fill="none" stroke="#fcf2ef" stroke-width="1.8" stroke-linecap="round" stroke-linejoin="round" opacity="0.4"/><path d="M232.7 195L256.3 194.8L279.8 195.6" fill="none" stroke="#fcf2ef" stroke-width="1.9" stroke-linecap="round" stroke-linejoin="round" opacity="0.4"/><path d="M140.6 113L161.7 110.9L182.7 111.9" fill="none" stroke="#fcf2ef" stroke-width="2.9" stroke-linecap="round" stroke-linejoin="round" opacity="0.4"/><path d="M158.6 39.7L165.2 40.1L171.8 39.1" fill="none" stroke="#fcf2ef" stroke-width="2.6" stroke-linecap="round" stroke-linejoin="round" opacity="0.4"/><path d="M127.8 189.5L150 190.1L172.2 187.9" fill="none" stroke="#fcf2ef" stroke-width="1.3" stroke-linecap="round" stroke-linejoin="round" opacity="0.4"/><path d="M216.5 101.8L237.4 101.6L258.3 101.7" fill="none" stroke="#fcf2ef" stroke-width="2.7" stroke-linecap="round" stroke-linejoin="round" opacity="0.4"/><path d="M35.4 91.5L44.1 90.6L52.9 91.8" fill="none" stroke="#fcf2ef" stroke-width="2.3" stroke-linecap="round" stroke-linejoin="round" opacity="0.4"/><path d="M221.7 46.5L229.7 47.7L237.7 46.5" fill="none" stroke="#fcf2ef" stroke-width="2.4" stroke-linecap="round" stroke-linejoin="round" opacity="0.4"/><path d="M222.1 149.2L230.5 149.2L238.9 148.4" fill="none" stroke="#fcf2ef" stroke-width="2.7" stroke-linecap="round" stroke-linejoin="round" opacity="0.4"/><path d="M321.7 184.3L344.7 185.7L367.7 185.4" fill="none" stroke="#fcf2ef" stroke-width="2.0" stroke-linecap="round" stroke-linejoin="round" opacity="0.4"/><path d="M48.4 190.4L71.7 191L94.9 191.9" fill="none" stroke="#fcf2ef" stroke-width="2.0" stroke-linecap="round" stroke-linejoin="round" opacity="0.4"/><path d="M97.6 151.1L104.8 150.9L112 151.9" fill="none" stroke="#fcf2ef" stroke-width="2.6" stroke-linecap="round" stroke-linejoin="round" opacity="0.4"/><path d="M331.7 44.2L354 45.3L376.3 46.7" fill="none" stroke="#fcf2ef" stroke-width="1.7" stroke-linecap="round" stroke-linejoin="round" opacity="0.4"/><path d="M325.5 35.4L333.2 35.7L340.8 35.7" fill="none" stroke="#fcf2ef" stroke-width="2.7" stroke-linecap="round" stroke-linejoin="round" opacity="0.4"/><path d="M11.5 59.5L24.6 61L37.6 61" fill="none" stroke="#fcf2ef" stroke-width="1.3" stroke-linecap="round" stroke-linejoin="round" opacity="0.4"/><path d="M335.3 149.1L347.8 148.3L360.3 149.8" fill="none" stroke="#fcf2ef" stroke-width="1.3" stroke-linecap="round" stroke-linejoin="round" opacity="0.4"/><path d="M193.1 108.9L208.5 108.2L223.9 107.3" fill="none" stroke="#fcf2ef" stroke-width="1.3" stroke-linecap="round" stroke-linejoin="round" opacity="0.4"/><path d="M10.8 119.3L19.6 119.2L28.5 118.6" fill="none" stroke="#fcf2ef" stroke-width="1.7" stroke-linecap="round" stroke-linejoin="round" opacity="0.4"/><path d="M137.1 67.9L147.3 68.2L157.5 68.9" fill="none" stroke="#fcf2ef" stroke-width="2.2" stroke-linecap="round" stroke-linejoin="round" opacity="0.4"/><path d="M57.6 83.8L68.2 84.4L78.7 84.5" fill="none" stroke="#fcf2ef" stroke-width="2.2" stroke-linecap="round" stroke-linejoin="round" opacity="0.4"/><path d="M66.4 85.3L79.7 86.6L92.9 85" fill="none" stroke="#fcf2ef" stroke-width="2.0" stroke-linecap="round" stroke-linejoin="round" opacity="0.4"/><path d="M194.5 142.6L214.1 142.9L233.7 144" fill="none" stroke="#fcf2ef" stroke-width="2.4" stroke-linecap="round" stroke-linejoin="round" opacity="0.4"/><path d="M235.3 195.3L244.4 193.9L253.5 195.1" fill="none" stroke="#fcf2ef" stroke-width="2.3" stroke-linecap="round" stroke-linejoin="round" opacity="0.4"/><path d="M14.1 159L22.3 158.2L30.4 158.2" fill="none" stroke="#fcf2ef" stroke-width="2.5" stroke-linecap="round" stroke-linejoin="round" opacity="0.4"/><path d="M11.4 122.3L32.3 123.7L53.2 122.6" fill="none" stroke="#fcf2ef" stroke-width="1.6" stroke-linecap="round" stroke-linejoin="round" opacity="0.4"/><path d="M103.6 110.1L123.4 109.8L143.1 108.5" fill="none" stroke="#fcf2ef" stroke-width="2.8" stroke-linecap="round" stroke-linejoin="round" opacity="0.4"/><path d="M42.4 49.1L67.1 51.1L91.7 51.6" fill="none" stroke="#fcf2ef" stroke-width="1.3" stroke-linecap="round" stroke-linejoin="round" opacity="0.4"/><path d="M238.6 154L257 153L275.3 153.8" fill="none" stroke="#fcf2ef" stroke-width="1.7" stroke-linecap="round" stroke-linejoin="round" opacity="0.4"/><path d="M303.3 162.4L324.3 161.9L345.2 162.9" fill="none" stroke="#fcf2ef" stroke-width="1.6" stroke-linecap="round" stroke-linejoin="round" opacity="0.4"/><path d="M279.1 156.6L304 158L328.9 157.7" fill="none" stroke="#fcf2ef" stroke-width="2.5" stroke-linecap="round" stroke-linejoin="round" opacity="0.4"/><path d="M33.1 131.2L39.7 132.3L46.3 130.6" fill="none" stroke="#fcf2ef" stroke-width="1.9" stroke-linecap="round" stroke-linejoin="round" opacity="0.4"/><path d="M9.9 186.6L33.9 186.2L57.9 188.5" fill="none" stroke="#fcf2ef" stroke-width="2.0" stroke-linecap="round" stroke-linejoin="round" opacity="0.4"/><path d="M49.2 31.7L56.5 30.7L63.8 32.2" fill="none" stroke="#fcf2ef" stroke-width="1.2" stroke-linecap="round" stroke-linejoin="round" opacity="0.4"/><path d="M208.5 76.4L217 77.6L225.6 75.8" fill="none" stroke="#fcf2ef" stroke-width="2.0" stroke-linecap="round" stroke-linejoin="round" opacity="0.4"/><path d="M135.5 130.9L152.2 130.2L168.9 130.9" fill="none" stroke="#fcf2ef" stroke-width="2.3" stroke-linecap="round" stroke-linejoin="round" opacity="0.4"/><path d="M48.3 181L57.9 181.6L67.6 181.7" fill="none" stroke="#fcf2ef" stroke-width="2.0" stroke-linecap="round" stroke-linejoin="round" opacity="0.4"/><path d="M334.7 167.6L350.4 167.7L366.2 168" fill="none" stroke="#fcf2ef" stroke-width="1.4" stroke-linecap="round" stroke-linejoin="round" opacity="0.4"/><path d="M304.2 120.2L323.4 121.2L342.6 120.1" fill="none" stroke="#fcf2ef" stroke-width="2.7" stroke-linecap="round" stroke-linejoin="round" opacity="0.4"/><path d="M317.5 56.2L340.9 56.8L364.4 58.2" fill="none" stroke="#fcf2ef" stroke-width="2.8" stroke-linecap="round" stroke-linejoin="round" opacity="0.4"/><path d="M88.9 52.6L101.9 50.9L115 52.2" fill="none" stroke="#fcf2ef" stroke-width="2.7" stroke-linecap="round" stroke-linejoin="round" opacity="0.4"/><path d="M107.6 44L125.5 43.7L143.3 45.9" fill="none" stroke="#fcf2ef" stroke-width="2.6" stroke-linecap="round" stroke-linejoin="round" opacity="0.4"/><path d="M134.3 51.4L157.6 52.8L180.9 51.5" fill="none" stroke="#fcf2ef" stroke-width="2.7" stroke-linecap="round" stroke-linejoin="round" opacity="0.4"/><path d="M183.7 162L198.9 163.9L214.2 163.8" fill="none" stroke="#fcf2ef" stroke-width="1.9" stroke-linecap="round" stroke-linejoin="round" opacity="0.4"/><path d="M208.9 177.4L227.2 175.4L245.5 175.5" fill="none" stroke="#fcf2ef" stroke-width="2.6" stroke-linecap="round" stroke-linejoin="round" opacity="0.4"/><path d="M38.6 132.5L58.3 131.4L78 132.6" fill="none" stroke="#fcf2ef" stroke-width="1.5" stroke-linecap="round" stroke-linejoin="round" opacity="0.4"/><path d="M242.7 162.4L250.4 161.5L258 162.7" fill="none" stroke="#fcf2ef" stroke-width="3.0" stroke-linecap="round" stroke-linejoin="round" opacity="0.4"/><path d="M123.9 56.9L143.7 55.2L163.6 55.4" fill="none" stroke="#fcf2ef" stroke-width="2.9" stroke-linecap="round" stroke-linejoin="round" opacity="0.4"/><path d="M222 176.1L242 175.5L262.1 174.2" fill="none" stroke="#fcf2ef" stroke-width="2.0" stroke-linecap="round" stroke-linejoin="round" opacity="0.4"/><path d="M160.8 166.6L177.7 168L194.5 168.5" fill="none" stroke="#fcf2ef" stroke-width="2.5" stroke-linecap="round" stroke-linejoin="round" opacity="0.4"/><path d="M321.8 76.6L327.8 77.7L333.9 75.9" fill="none" stroke="#fcf2ef" stroke-width="2.8" stroke-linecap="round" stroke-linejoin="round" opacity="0.4"/><path d="M160.9 40.4L172.1 40.6L183.3 40.1" fill="none" stroke="#fcf2ef" stroke-width="2.5" stroke-linecap="round" stroke-linejoin="round" opacity="0.4"/><path d="M36 172.1L49.1 172L62.2 171" fill="none" stroke="#fcf2ef" stroke-width="2.7" stroke-linecap="round" stroke-linejoin="round" opacity="0.4"/></g>
<g><path d="M53 -1L262 -1L262 16L240 22L190 24.5L178 26L60 26L53 14Z" fill="#ffffff"/></g>
<use href="#land" fill="#000"/><use href="#sea_inl" fill="#fff"/><use href="#sea_hud" fill="#f9eae4"/><use href="#sea_med" fill="#d3dec9"/><use href="#chan" stroke="#fff"/>
<use href="#ct"/>
</g>
<text x="9" y="178.3" font-size="29.3" font-weight="bold" xml:space="preserve" style="white-space:pre">% <tspan font-weight="normal" font-size="26">Δ</tspan> EP (0)</text>
<rect x="0" y="0" width="353" height="201" fill="none" stroke="#000" stroke-width="1" shape-rendering="crispEdges"/>
</g>
<g transform="translate(399.5 24.5)"><rect x="0" y="0" width="42" height="203" fill="url(#curl)" stroke="#000" stroke-width="1" shape-rendering="crispEdges"/><path d="M0 101.5h4M42 101.5h-4" stroke="#000" stroke-width="1" shape-rendering="crispEdges"/><g stroke="#000" stroke-width="0.45"><text x="48" y="8.5" font-size="24">10</text><text x="48" y="109.7" font-size="24">0</text><text x="46.8" y="211.5" font-size="24">-10</text></g></g>
<g transform="translate(399.5 231.5)"><rect x="0" y="0" width="42" height="203" fill="url(#curl)" stroke="#000" stroke-width="1" shape-rendering="crispEdges"/><path d="M0 101.5h4M42 101.5h-4" stroke="#000" stroke-width="1" shape-rendering="crispEdges"/><g stroke="#000" stroke-width="0.45"><text x="48" y="8.5" font-size="24">10</text><text x="48" y="109.7" font-size="24">0</text><text x="46.8" y="211.5" font-size="24">-10</text></g></g>
<g transform="translate(399.5 438.5)"><rect x="0" y="0" width="42" height="203" fill="url(#curl)" stroke="#000" stroke-width="1" shape-rendering="crispEdges"/><path d="M0 101.5h4M42 101.5h-4" stroke="#000" stroke-width="1" shape-rendering="crispEdges"/><g stroke="#000" stroke-width="0.45"><text x="48" y="8.5" font-size="24">10</text><text x="48" y="109.7" font-size="24">0</text><text x="46.8" y="211.5" font-size="24">-10</text></g></g>
<g transform="translate(399.5 645.5)"><rect x="0" y="0" width="42" height="203" fill="url(#curl)" stroke="#000" stroke-width="1" shape-rendering="crispEdges"/><path d="M0 101.5h4M42 101.5h-4" stroke="#000" stroke-width="1" shape-rendering="crispEdges"/><g stroke="#000" stroke-width="0.45"><text x="48" y="8.5" font-size="24">10</text><text x="48" y="109.7" font-size="24">0</text><text x="46.8" y="211.5" font-size="24">-10</text></g></g>
<g transform="translate(987.5 24.5)"><rect x="0" y="0" width="42" height="203" fill="url(#curl)" stroke="#000" stroke-width="1" shape-rendering="crispEdges"/><path d="M0 101.5h4M42 101.5h-4" stroke="#000" stroke-width="1" shape-rendering="crispEdges"/><g stroke="#000" stroke-width="0.45"><text x="48" y="8.5" font-size="24">10</text><text x="48" y="109.7" font-size="24">0</text><text x="46.8" y="211.5" font-size="24">-10</text></g></g>
<g transform="translate(987.5 231.5)"><rect x="0" y="0" width="42" height="203" fill="url(#curl)" stroke="#000" stroke-width="1" shape-rendering="crispEdges"/><path d="M0 101.5h4M42 101.5h-4" stroke="#000" stroke-width="1" shape-rendering="crispEdges"/><g stroke="#000" stroke-width="0.45"><text x="48" y="8.5" font-size="24">10</text><text x="48" y="109.7" font-size="24">0</text><text x="46.8" y="211.5" font-size="24">-10</text></g></g>
</svg>
</body></html>
